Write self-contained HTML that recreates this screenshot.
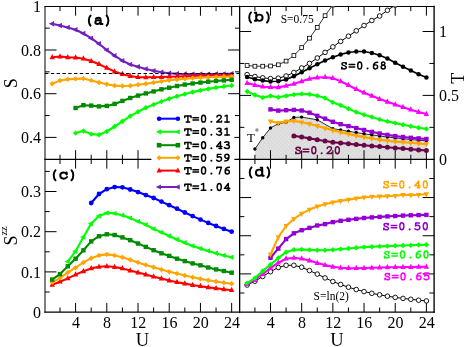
<!DOCTYPE html>
<html><head><meta charset="utf-8"><title>chart</title>
<style>html,body{margin:0;padding:0;background:#fff;}body{width:464px;height:347px;overflow:hidden;font-family:"Liberation Sans",sans-serif;}</style>
</head><body>
<svg width="464" height="347" viewBox="0 0 464 347" style="display:block;opacity:0.999;will-change:transform">
<defs>
<clipPath id="cb"><rect x="239.65" y="6.5" width="194.45000000000002" height="152.9"/></clipPath>
<pattern id="dots" width="4" height="4" patternUnits="userSpaceOnUse"><rect width="4" height="4" fill="#dcdcdc"/><rect x="0" y="0" width="1" height="1" fill="#e9e9e9"/><rect x="2" y="2" width="1" height="1" fill="#e9e9e9"/></pattern>
</defs>
<rect width="464" height="347" fill="#fff"/>
<polygon points="254.91,159.40 254.91,149.00 262.70,137.80 270.50,128.00 278.30,123.70 286.09,122.30 293.88,117.40 301.68,117.10 317.27,119.80 332.86,128.70 340.65,129.90 348.45,131.30 356.25,132.50 364.04,133.80 371.83,134.90 379.63,136.00 387.42,137.00 395.22,137.90 403.01,138.70 410.81,139.50 418.61,140.20 426.40,140.80 426.40,159.40" fill="url(#dots)"/>
<line x1="60.00" y1="6.50" x2="60.00" y2="11.10" stroke="#000" stroke-width="1.0"/>
<line x1="60.00" y1="154.80" x2="60.00" y2="164.00" stroke="#000" stroke-width="1.0"/>
<line x1="60.00" y1="307.50" x2="60.00" y2="312.10" stroke="#000" stroke-width="1.0"/>
<line x1="75.60" y1="6.50" x2="75.60" y2="15.70" stroke="#000" stroke-width="1.0"/>
<line x1="75.60" y1="150.20" x2="75.60" y2="168.60" stroke="#000" stroke-width="1.0"/>
<line x1="75.60" y1="302.90" x2="75.60" y2="312.10" stroke="#000" stroke-width="1.0"/>
<line x1="91.20" y1="6.50" x2="91.20" y2="11.10" stroke="#000" stroke-width="1.0"/>
<line x1="91.20" y1="154.80" x2="91.20" y2="164.00" stroke="#000" stroke-width="1.0"/>
<line x1="91.20" y1="307.50" x2="91.20" y2="312.10" stroke="#000" stroke-width="1.0"/>
<line x1="106.81" y1="6.50" x2="106.81" y2="15.70" stroke="#000" stroke-width="1.0"/>
<line x1="106.81" y1="150.20" x2="106.81" y2="168.60" stroke="#000" stroke-width="1.0"/>
<line x1="106.81" y1="302.90" x2="106.81" y2="312.10" stroke="#000" stroke-width="1.0"/>
<line x1="122.42" y1="6.50" x2="122.42" y2="11.10" stroke="#000" stroke-width="1.0"/>
<line x1="122.42" y1="154.80" x2="122.42" y2="164.00" stroke="#000" stroke-width="1.0"/>
<line x1="122.42" y1="307.50" x2="122.42" y2="312.10" stroke="#000" stroke-width="1.0"/>
<line x1="138.02" y1="6.50" x2="138.02" y2="15.70" stroke="#000" stroke-width="1.0"/>
<line x1="138.02" y1="150.20" x2="138.02" y2="168.60" stroke="#000" stroke-width="1.0"/>
<line x1="138.02" y1="302.90" x2="138.02" y2="312.10" stroke="#000" stroke-width="1.0"/>
<line x1="153.62" y1="6.50" x2="153.62" y2="11.10" stroke="#000" stroke-width="1.0"/>
<line x1="153.62" y1="154.80" x2="153.62" y2="164.00" stroke="#000" stroke-width="1.0"/>
<line x1="153.62" y1="307.50" x2="153.62" y2="312.10" stroke="#000" stroke-width="1.0"/>
<line x1="169.23" y1="6.50" x2="169.23" y2="15.70" stroke="#000" stroke-width="1.0"/>
<line x1="169.23" y1="150.20" x2="169.23" y2="168.60" stroke="#000" stroke-width="1.0"/>
<line x1="169.23" y1="302.90" x2="169.23" y2="312.10" stroke="#000" stroke-width="1.0"/>
<line x1="184.83" y1="6.50" x2="184.83" y2="11.10" stroke="#000" stroke-width="1.0"/>
<line x1="184.83" y1="154.80" x2="184.83" y2="164.00" stroke="#000" stroke-width="1.0"/>
<line x1="184.83" y1="307.50" x2="184.83" y2="312.10" stroke="#000" stroke-width="1.0"/>
<line x1="200.44" y1="6.50" x2="200.44" y2="15.70" stroke="#000" stroke-width="1.0"/>
<line x1="200.44" y1="150.20" x2="200.44" y2="168.60" stroke="#000" stroke-width="1.0"/>
<line x1="200.44" y1="302.90" x2="200.44" y2="312.10" stroke="#000" stroke-width="1.0"/>
<line x1="216.05" y1="6.50" x2="216.05" y2="11.10" stroke="#000" stroke-width="1.0"/>
<line x1="216.05" y1="154.80" x2="216.05" y2="164.00" stroke="#000" stroke-width="1.0"/>
<line x1="216.05" y1="307.50" x2="216.05" y2="312.10" stroke="#000" stroke-width="1.0"/>
<line x1="231.65" y1="6.50" x2="231.65" y2="15.70" stroke="#000" stroke-width="1.0"/>
<line x1="231.65" y1="150.20" x2="231.65" y2="168.60" stroke="#000" stroke-width="1.0"/>
<line x1="231.65" y1="302.90" x2="231.65" y2="312.10" stroke="#000" stroke-width="1.0"/>
<line x1="254.91" y1="6.50" x2="254.91" y2="11.10" stroke="#000" stroke-width="1.0"/>
<line x1="254.91" y1="154.80" x2="254.91" y2="164.00" stroke="#000" stroke-width="1.0"/>
<line x1="254.91" y1="307.50" x2="254.91" y2="312.10" stroke="#000" stroke-width="1.0"/>
<line x1="270.50" y1="6.50" x2="270.50" y2="15.70" stroke="#000" stroke-width="1.0"/>
<line x1="270.50" y1="150.20" x2="270.50" y2="168.60" stroke="#000" stroke-width="1.0"/>
<line x1="270.50" y1="302.90" x2="270.50" y2="312.10" stroke="#000" stroke-width="1.0"/>
<line x1="286.09" y1="6.50" x2="286.09" y2="11.10" stroke="#000" stroke-width="1.0"/>
<line x1="286.09" y1="154.80" x2="286.09" y2="164.00" stroke="#000" stroke-width="1.0"/>
<line x1="286.09" y1="307.50" x2="286.09" y2="312.10" stroke="#000" stroke-width="1.0"/>
<line x1="301.68" y1="6.50" x2="301.68" y2="15.70" stroke="#000" stroke-width="1.0"/>
<line x1="301.68" y1="150.20" x2="301.68" y2="168.60" stroke="#000" stroke-width="1.0"/>
<line x1="301.68" y1="302.90" x2="301.68" y2="312.10" stroke="#000" stroke-width="1.0"/>
<line x1="317.27" y1="6.50" x2="317.27" y2="11.10" stroke="#000" stroke-width="1.0"/>
<line x1="317.27" y1="154.80" x2="317.27" y2="164.00" stroke="#000" stroke-width="1.0"/>
<line x1="317.27" y1="307.50" x2="317.27" y2="312.10" stroke="#000" stroke-width="1.0"/>
<line x1="332.86" y1="6.50" x2="332.86" y2="15.70" stroke="#000" stroke-width="1.0"/>
<line x1="332.86" y1="150.20" x2="332.86" y2="168.60" stroke="#000" stroke-width="1.0"/>
<line x1="332.86" y1="302.90" x2="332.86" y2="312.10" stroke="#000" stroke-width="1.0"/>
<line x1="348.45" y1="6.50" x2="348.45" y2="11.10" stroke="#000" stroke-width="1.0"/>
<line x1="348.45" y1="154.80" x2="348.45" y2="164.00" stroke="#000" stroke-width="1.0"/>
<line x1="348.45" y1="307.50" x2="348.45" y2="312.10" stroke="#000" stroke-width="1.0"/>
<line x1="364.04" y1="6.50" x2="364.04" y2="15.70" stroke="#000" stroke-width="1.0"/>
<line x1="364.04" y1="150.20" x2="364.04" y2="168.60" stroke="#000" stroke-width="1.0"/>
<line x1="364.04" y1="302.90" x2="364.04" y2="312.10" stroke="#000" stroke-width="1.0"/>
<line x1="379.63" y1="6.50" x2="379.63" y2="11.10" stroke="#000" stroke-width="1.0"/>
<line x1="379.63" y1="154.80" x2="379.63" y2="164.00" stroke="#000" stroke-width="1.0"/>
<line x1="379.63" y1="307.50" x2="379.63" y2="312.10" stroke="#000" stroke-width="1.0"/>
<line x1="395.22" y1="6.50" x2="395.22" y2="15.70" stroke="#000" stroke-width="1.0"/>
<line x1="395.22" y1="150.20" x2="395.22" y2="168.60" stroke="#000" stroke-width="1.0"/>
<line x1="395.22" y1="302.90" x2="395.22" y2="312.10" stroke="#000" stroke-width="1.0"/>
<line x1="410.81" y1="6.50" x2="410.81" y2="11.10" stroke="#000" stroke-width="1.0"/>
<line x1="410.81" y1="154.80" x2="410.81" y2="164.00" stroke="#000" stroke-width="1.0"/>
<line x1="410.81" y1="307.50" x2="410.81" y2="312.10" stroke="#000" stroke-width="1.0"/>
<line x1="426.40" y1="6.50" x2="426.40" y2="15.70" stroke="#000" stroke-width="1.0"/>
<line x1="426.40" y1="150.20" x2="426.40" y2="168.60" stroke="#000" stroke-width="1.0"/>
<line x1="426.40" y1="302.90" x2="426.40" y2="312.10" stroke="#000" stroke-width="1.0"/>
<line x1="45.00" y1="28.15" x2="49.70" y2="28.15" stroke="#000" stroke-width="1.0"/>
<line x1="234.95" y1="28.15" x2="239.65" y2="28.15" stroke="#000" stroke-width="1.0"/>
<line x1="45.00" y1="50.00" x2="56.50" y2="50.00" stroke="#000" stroke-width="1.0"/>
<line x1="228.15" y1="50.00" x2="239.65" y2="50.00" stroke="#000" stroke-width="1.0"/>
<line x1="45.00" y1="71.85" x2="49.70" y2="71.85" stroke="#000" stroke-width="1.0"/>
<line x1="234.95" y1="71.85" x2="239.65" y2="71.85" stroke="#000" stroke-width="1.0"/>
<line x1="45.00" y1="93.70" x2="56.50" y2="93.70" stroke="#000" stroke-width="1.0"/>
<line x1="228.15" y1="93.70" x2="239.65" y2="93.70" stroke="#000" stroke-width="1.0"/>
<line x1="45.00" y1="115.55" x2="49.70" y2="115.55" stroke="#000" stroke-width="1.0"/>
<line x1="234.95" y1="115.55" x2="239.65" y2="115.55" stroke="#000" stroke-width="1.0"/>
<line x1="45.00" y1="137.40" x2="56.50" y2="137.40" stroke="#000" stroke-width="1.0"/>
<line x1="228.15" y1="137.40" x2="239.65" y2="137.40" stroke="#000" stroke-width="1.0"/>
<line x1="239.65" y1="127.35" x2="244.35" y2="127.35" stroke="#000" stroke-width="1.0"/>
<line x1="429.40" y1="127.35" x2="434.10" y2="127.35" stroke="#000" stroke-width="1.0"/>
<line x1="239.65" y1="95.40" x2="251.15" y2="95.40" stroke="#000" stroke-width="1.0"/>
<line x1="422.60" y1="95.40" x2="434.10" y2="95.40" stroke="#000" stroke-width="1.0"/>
<line x1="239.65" y1="63.45" x2="244.35" y2="63.45" stroke="#000" stroke-width="1.0"/>
<line x1="429.40" y1="63.45" x2="434.10" y2="63.45" stroke="#000" stroke-width="1.0"/>
<line x1="239.65" y1="31.50" x2="251.15" y2="31.50" stroke="#000" stroke-width="1.0"/>
<line x1="422.60" y1="31.50" x2="434.10" y2="31.50" stroke="#000" stroke-width="1.0"/>
<line x1="45.00" y1="292.00" x2="49.70" y2="292.00" stroke="#000" stroke-width="1.0"/>
<line x1="45.00" y1="271.90" x2="56.50" y2="271.90" stroke="#000" stroke-width="1.0"/>
<line x1="45.00" y1="251.80" x2="49.70" y2="251.80" stroke="#000" stroke-width="1.0"/>
<line x1="45.00" y1="231.70" x2="56.50" y2="231.70" stroke="#000" stroke-width="1.0"/>
<line x1="45.00" y1="211.60" x2="49.70" y2="211.60" stroke="#000" stroke-width="1.0"/>
<line x1="45.00" y1="191.50" x2="56.50" y2="191.50" stroke="#000" stroke-width="1.0"/>
<line x1="45.00" y1="171.40" x2="49.70" y2="171.40" stroke="#000" stroke-width="1.0"/>
<line x1="239.65" y1="293.01" x2="244.35" y2="293.01" stroke="#000" stroke-width="1.0"/>
<line x1="429.40" y1="293.01" x2="434.10" y2="293.01" stroke="#000" stroke-width="1.0"/>
<line x1="239.65" y1="273.92" x2="251.15" y2="273.92" stroke="#000" stroke-width="1.0"/>
<line x1="422.60" y1="273.92" x2="434.10" y2="273.92" stroke="#000" stroke-width="1.0"/>
<line x1="239.65" y1="254.83" x2="244.35" y2="254.83" stroke="#000" stroke-width="1.0"/>
<line x1="429.40" y1="254.83" x2="434.10" y2="254.83" stroke="#000" stroke-width="1.0"/>
<line x1="239.65" y1="235.74" x2="251.15" y2="235.74" stroke="#000" stroke-width="1.0"/>
<line x1="422.60" y1="235.74" x2="434.10" y2="235.74" stroke="#000" stroke-width="1.0"/>
<line x1="239.65" y1="216.65" x2="244.35" y2="216.65" stroke="#000" stroke-width="1.0"/>
<line x1="429.40" y1="216.65" x2="434.10" y2="216.65" stroke="#000" stroke-width="1.0"/>
<line x1="239.65" y1="197.56" x2="251.15" y2="197.56" stroke="#000" stroke-width="1.0"/>
<line x1="422.60" y1="197.56" x2="434.10" y2="197.56" stroke="#000" stroke-width="1.0"/>
<line x1="239.65" y1="178.47" x2="244.35" y2="178.47" stroke="#000" stroke-width="1.0"/>
<line x1="429.40" y1="178.47" x2="434.10" y2="178.47" stroke="#000" stroke-width="1.0"/>
<line x1="45.00" y1="6.50" x2="434.10" y2="6.50" stroke="#000" stroke-width="1.1" stroke-linecap="square"/>
<line x1="45.00" y1="159.40" x2="434.10" y2="159.40" stroke="#000" stroke-width="1.3" stroke-linecap="square"/>
<line x1="45.00" y1="312.10" x2="434.10" y2="312.10" stroke="#000" stroke-width="1.35" stroke-linecap="square"/>
<line x1="45.00" y1="6.50" x2="45.00" y2="312.10" stroke="#000" stroke-width="1.0" stroke-linecap="square"/>
<line x1="239.65" y1="6.50" x2="239.65" y2="312.10" stroke="#000" stroke-width="1.3" stroke-linecap="square"/>
<line x1="434.10" y1="6.50" x2="434.10" y2="312.10" stroke="#000" stroke-width="1.35" stroke-linecap="square"/>
<rect x="151.4" y="109" width="83" height="85" fill="#fff"/>
<g>
<polyline points="52.19,23.80 60.00,25.50 67.80,27.40 75.60,29.80 83.40,33.50 91.20,38.20 99.01,43.80 106.81,50.10 114.61,55.70 122.42,60.70 130.22,64.40 138.02,66.80 145.82,68.90 153.62,70.80 161.43,72.20 169.23,73.20 177.03,73.70 184.83,74.00 192.64,74.10 200.44,74.10 208.24,74.10 216.05,74.00 223.85,73.90 231.65,73.80" fill="none" stroke="#7221bc" stroke-width="2.1" stroke-linejoin="round"/>
<polygon points="48.83,23.80 54.11,21.11 54.11,26.49" fill="#7221bc"/>
<polygon points="56.64,25.50 61.92,22.81 61.92,28.19" fill="#7221bc"/>
<polygon points="64.44,27.40 69.72,24.71 69.72,30.09" fill="#7221bc"/>
<polygon points="72.24,29.80 77.52,27.11 77.52,32.49" fill="#7221bc"/>
<polygon points="80.04,33.50 85.32,30.81 85.32,36.19" fill="#7221bc"/>
<polygon points="87.84,38.20 93.12,35.51 93.12,40.89" fill="#7221bc"/>
<polygon points="95.65,43.80 100.93,41.11 100.93,46.49" fill="#7221bc"/>
<polygon points="103.45,50.10 108.73,47.41 108.73,52.79" fill="#7221bc"/>
<polygon points="111.25,55.70 116.53,53.01 116.53,58.39" fill="#7221bc"/>
<polygon points="119.06,60.70 124.34,58.01 124.34,63.39" fill="#7221bc"/>
<polygon points="126.86,64.40 132.14,61.71 132.14,67.09" fill="#7221bc"/>
<polygon points="134.66,66.80 139.94,64.11 139.94,69.49" fill="#7221bc"/>
<polygon points="142.46,68.90 147.74,66.21 147.74,71.59" fill="#7221bc"/>
<polygon points="150.26,70.80 155.54,68.11 155.54,73.49" fill="#7221bc"/>
<polygon points="158.07,72.20 163.35,69.51 163.35,74.89" fill="#7221bc"/>
<polygon points="165.87,73.20 171.15,70.51 171.15,75.89" fill="#7221bc"/>
<polygon points="173.67,73.70 178.95,71.01 178.95,76.39" fill="#7221bc"/>
<polygon points="181.47,74.00 186.75,71.31 186.75,76.69" fill="#7221bc"/>
<polygon points="189.28,74.10 194.56,71.41 194.56,76.79" fill="#7221bc"/>
<polygon points="197.08,74.10 202.36,71.41 202.36,76.79" fill="#7221bc"/>
<polygon points="204.88,74.10 210.16,71.41 210.16,76.79" fill="#7221bc"/>
<polygon points="212.69,74.00 217.97,71.31 217.97,76.69" fill="#7221bc"/>
<polygon points="220.49,73.90 225.77,71.21 225.77,76.59" fill="#7221bc"/>
<polygon points="228.29,73.80 233.57,71.11 233.57,76.49" fill="#7221bc"/>
</g>
<g>
<polyline points="52.19,57.30 60.00,56.50 67.80,57.40 75.60,57.50 83.40,58.70 91.20,61.00 99.01,64.20 106.81,67.90 114.61,71.50 122.42,74.20 130.22,76.00 138.02,77.20 145.82,77.30 153.62,77.20 161.43,77.00 169.23,76.70 177.03,76.50 184.83,76.20 192.64,76.00 200.44,75.80 208.24,75.60 216.05,75.50 223.85,75.40 231.65,75.30" fill="none" stroke="#ff0000" stroke-width="2.1" stroke-linejoin="round"/>
<polygon points="52.19,53.94 54.88,59.22 49.50,59.22" fill="#ff0000"/>
<polygon points="60.00,53.14 62.68,58.42 57.31,58.42" fill="#ff0000"/>
<polygon points="67.80,54.04 70.49,59.32 65.11,59.32" fill="#ff0000"/>
<polygon points="75.60,54.14 78.29,59.42 72.91,59.42" fill="#ff0000"/>
<polygon points="83.40,55.34 86.09,60.62 80.71,60.62" fill="#ff0000"/>
<polygon points="91.20,57.64 93.89,62.92 88.52,62.92" fill="#ff0000"/>
<polygon points="99.01,60.84 101.70,66.12 96.32,66.12" fill="#ff0000"/>
<polygon points="106.81,64.54 109.50,69.82 104.12,69.82" fill="#ff0000"/>
<polygon points="114.61,68.14 117.30,73.42 111.92,73.42" fill="#ff0000"/>
<polygon points="122.42,70.84 125.10,76.12 119.73,76.12" fill="#ff0000"/>
<polygon points="130.22,72.64 132.91,77.92 127.53,77.92" fill="#ff0000"/>
<polygon points="138.02,73.84 140.71,79.12 135.33,79.12" fill="#ff0000"/>
<polygon points="145.82,73.94 148.51,79.22 143.13,79.22" fill="#ff0000"/>
<polygon points="153.62,73.84 156.31,79.12 150.94,79.12" fill="#ff0000"/>
<polygon points="161.43,73.64 164.12,78.92 158.74,78.92" fill="#ff0000"/>
<polygon points="169.23,73.34 171.92,78.62 166.54,78.62" fill="#ff0000"/>
<polygon points="177.03,73.14 179.72,78.42 174.34,78.42" fill="#ff0000"/>
<polygon points="184.83,72.84 187.52,78.12 182.15,78.12" fill="#ff0000"/>
<polygon points="192.64,72.64 195.33,77.92 189.95,77.92" fill="#ff0000"/>
<polygon points="200.44,72.44 203.13,77.72 197.75,77.72" fill="#ff0000"/>
<polygon points="208.24,72.24 210.93,77.52 205.55,77.52" fill="#ff0000"/>
<polygon points="216.05,72.14 218.73,77.42 213.36,77.42" fill="#ff0000"/>
<polygon points="223.85,72.04 226.54,77.32 221.16,77.32" fill="#ff0000"/>
<polygon points="231.65,71.94 234.34,77.22 228.96,77.22" fill="#ff0000"/>
</g>
<g>
<polyline points="52.19,83.80 60.00,80.60 67.80,79.30 75.60,78.90 83.40,78.60 91.20,80.40 99.01,82.50 106.81,84.30 114.61,85.60 122.42,86.00 130.22,85.70 138.02,84.80 145.82,83.80 153.62,82.60 161.43,81.40 169.23,80.30 177.03,79.50 184.83,78.80 192.64,78.10 200.44,77.60 208.24,77.20 216.05,76.90 223.85,76.70 231.65,76.60" fill="none" stroke="#ffa500" stroke-width="2.1" stroke-linejoin="round"/>
<polygon points="52.19,81.11 54.88,83.80 52.19,86.49 49.50,83.80" fill="#ffa500"/>
<polygon points="60.00,77.91 62.68,80.60 60.00,83.29 57.31,80.60" fill="#ffa500"/>
<polygon points="67.80,76.61 70.49,79.30 67.80,81.99 65.11,79.30" fill="#ffa500"/>
<polygon points="75.60,76.21 78.29,78.90 75.60,81.59 72.91,78.90" fill="#ffa500"/>
<polygon points="83.40,75.91 86.09,78.60 83.40,81.29 80.71,78.60" fill="#ffa500"/>
<polygon points="91.20,77.71 93.89,80.40 91.20,83.09 88.52,80.40" fill="#ffa500"/>
<polygon points="99.01,79.81 101.70,82.50 99.01,85.19 96.32,82.50" fill="#ffa500"/>
<polygon points="106.81,81.61 109.50,84.30 106.81,86.99 104.12,84.30" fill="#ffa500"/>
<polygon points="114.61,82.91 117.30,85.60 114.61,88.29 111.92,85.60" fill="#ffa500"/>
<polygon points="122.42,83.31 125.10,86.00 122.42,88.69 119.73,86.00" fill="#ffa500"/>
<polygon points="130.22,83.01 132.91,85.70 130.22,88.39 127.53,85.70" fill="#ffa500"/>
<polygon points="138.02,82.11 140.71,84.80 138.02,87.49 135.33,84.80" fill="#ffa500"/>
<polygon points="145.82,81.11 148.51,83.80 145.82,86.49 143.13,83.80" fill="#ffa500"/>
<polygon points="153.62,79.91 156.31,82.60 153.62,85.29 150.94,82.60" fill="#ffa500"/>
<polygon points="161.43,78.71 164.12,81.40 161.43,84.09 158.74,81.40" fill="#ffa500"/>
<polygon points="169.23,77.61 171.92,80.30 169.23,82.99 166.54,80.30" fill="#ffa500"/>
<polygon points="177.03,76.81 179.72,79.50 177.03,82.19 174.34,79.50" fill="#ffa500"/>
<polygon points="184.83,76.11 187.52,78.80 184.83,81.49 182.15,78.80" fill="#ffa500"/>
<polygon points="192.64,75.41 195.33,78.10 192.64,80.79 189.95,78.10" fill="#ffa500"/>
<polygon points="200.44,74.91 203.13,77.60 200.44,80.29 197.75,77.60" fill="#ffa500"/>
<polygon points="208.24,74.51 210.93,77.20 208.24,79.89 205.55,77.20" fill="#ffa500"/>
<polygon points="216.05,74.21 218.73,76.90 216.05,79.59 213.36,76.90" fill="#ffa500"/>
<polygon points="223.85,74.01 226.54,76.70 223.85,79.39 221.16,76.70" fill="#ffa500"/>
<polygon points="231.65,73.91 234.34,76.60 231.65,79.29 228.96,76.60" fill="#ffa500"/>
</g>
<g>
<polyline points="75.60,108.00 83.40,105.20 91.20,105.60 99.01,106.40 106.81,105.90 114.61,103.90 122.42,100.90 130.22,98.00 138.02,95.60 145.82,93.40 153.62,91.40 161.43,89.30 169.23,87.70 177.03,86.00 184.83,84.60 192.64,83.50 200.44,82.60 208.24,81.70 216.05,81.00 223.85,80.40 231.65,79.80" fill="none" stroke="#008b00" stroke-width="2.1" stroke-linejoin="round"/>
<rect x="73.40" y="105.80" width="4.40" height="4.40" fill="#008b00"/>
<rect x="81.20" y="103.00" width="4.40" height="4.40" fill="#008b00"/>
<rect x="89.00" y="103.40" width="4.40" height="4.40" fill="#008b00"/>
<rect x="96.81" y="104.20" width="4.40" height="4.40" fill="#008b00"/>
<rect x="104.61" y="103.70" width="4.40" height="4.40" fill="#008b00"/>
<rect x="112.41" y="101.70" width="4.40" height="4.40" fill="#008b00"/>
<rect x="120.22" y="98.70" width="4.40" height="4.40" fill="#008b00"/>
<rect x="128.02" y="95.80" width="4.40" height="4.40" fill="#008b00"/>
<rect x="135.82" y="93.40" width="4.40" height="4.40" fill="#008b00"/>
<rect x="143.62" y="91.20" width="4.40" height="4.40" fill="#008b00"/>
<rect x="151.43" y="89.20" width="4.40" height="4.40" fill="#008b00"/>
<rect x="159.23" y="87.10" width="4.40" height="4.40" fill="#008b00"/>
<rect x="167.03" y="85.50" width="4.40" height="4.40" fill="#008b00"/>
<rect x="174.83" y="83.80" width="4.40" height="4.40" fill="#008b00"/>
<rect x="182.63" y="82.40" width="4.40" height="4.40" fill="#008b00"/>
<rect x="190.44" y="81.30" width="4.40" height="4.40" fill="#008b00"/>
<rect x="198.24" y="80.40" width="4.40" height="4.40" fill="#008b00"/>
<rect x="206.04" y="79.50" width="4.40" height="4.40" fill="#008b00"/>
<rect x="213.85" y="78.80" width="4.40" height="4.40" fill="#008b00"/>
<rect x="221.65" y="78.20" width="4.40" height="4.40" fill="#008b00"/>
<rect x="229.45" y="77.60" width="4.40" height="4.40" fill="#008b00"/>
</g>
<g>
<polyline points="75.60,133.10 83.40,131.00 91.20,134.10 99.01,134.80 106.81,131.50 114.61,126.50 122.42,121.30 130.22,116.10 138.02,111.80 145.82,107.80 153.62,104.60 161.43,101.60 169.23,98.80 177.03,96.30 184.83,94.10 192.64,92.10 200.44,90.40 208.24,88.90 216.05,87.60 223.85,86.50 231.65,85.50" fill="none" stroke="#00ff00" stroke-width="2.1" stroke-linejoin="round"/>
<polygon points="75.60,130.41 78.29,133.10 75.60,135.79 72.91,133.10" fill="#00ff00"/>
<polygon points="83.40,128.31 86.09,131.00 83.40,133.69 80.71,131.00" fill="#00ff00"/>
<polygon points="91.20,131.41 93.89,134.10 91.20,136.79 88.52,134.10" fill="#00ff00"/>
<polygon points="99.01,132.11 101.70,134.80 99.01,137.49 96.32,134.80" fill="#00ff00"/>
<polygon points="106.81,128.81 109.50,131.50 106.81,134.19 104.12,131.50" fill="#00ff00"/>
<polygon points="114.61,123.81 117.30,126.50 114.61,129.19 111.92,126.50" fill="#00ff00"/>
<polygon points="122.42,118.61 125.10,121.30 122.42,123.99 119.73,121.30" fill="#00ff00"/>
<polygon points="130.22,113.41 132.91,116.10 130.22,118.79 127.53,116.10" fill="#00ff00"/>
<polygon points="138.02,109.11 140.71,111.80 138.02,114.49 135.33,111.80" fill="#00ff00"/>
<polygon points="145.82,105.11 148.51,107.80 145.82,110.49 143.13,107.80" fill="#00ff00"/>
<polygon points="153.62,101.91 156.31,104.60 153.62,107.29 150.94,104.60" fill="#00ff00"/>
<polygon points="161.43,98.91 164.12,101.60 161.43,104.29 158.74,101.60" fill="#00ff00"/>
<polygon points="169.23,96.11 171.92,98.80 169.23,101.49 166.54,98.80" fill="#00ff00"/>
<polygon points="177.03,93.61 179.72,96.30 177.03,98.99 174.34,96.30" fill="#00ff00"/>
<polygon points="184.83,91.41 187.52,94.10 184.83,96.79 182.15,94.10" fill="#00ff00"/>
<polygon points="192.64,89.41 195.33,92.10 192.64,94.79 189.95,92.10" fill="#00ff00"/>
<polygon points="200.44,87.71 203.13,90.40 200.44,93.09 197.75,90.40" fill="#00ff00"/>
<polygon points="208.24,86.21 210.93,88.90 208.24,91.59 205.55,88.90" fill="#00ff00"/>
<polygon points="216.05,84.91 218.73,87.60 216.05,90.29 213.36,87.60" fill="#00ff00"/>
<polygon points="223.85,83.81 226.54,86.50 223.85,89.19 221.16,86.50" fill="#00ff00"/>
<polygon points="231.65,82.81 234.34,85.50 231.65,88.19 228.96,85.50" fill="#00ff00"/>
</g>
<line x1="45.00" y1="73.50" x2="239.65" y2="73.50" stroke="#000" stroke-width="1.2" stroke-dasharray="3.4,2.4"/>
<g>
<polyline points="254.91,149.00 262.70,137.80 270.50,128.00 278.30,123.70 286.09,122.30 293.88,117.40 301.68,117.10 317.27,119.80 332.86,128.70 340.65,129.90 348.45,131.30 356.25,132.50 364.04,133.80 371.83,134.90 379.63,136.00 387.42,137.00 395.22,137.90 403.01,138.70 410.81,139.50 418.61,140.20 426.40,140.80" fill="none" stroke="#000" stroke-width="0.8" stroke-linejoin="round"/>
<circle cx="254.91" cy="149.00" r="1.70" fill="#000"/>
<circle cx="262.70" cy="137.80" r="1.70" fill="#000"/>
<circle cx="270.50" cy="128.00" r="1.70" fill="#000"/>
<circle cx="278.30" cy="123.70" r="1.70" fill="#000"/>
<circle cx="286.09" cy="122.30" r="1.70" fill="#000"/>
<circle cx="293.88" cy="117.40" r="1.70" fill="#000"/>
<circle cx="301.68" cy="117.10" r="1.70" fill="#000"/>
<circle cx="317.27" cy="119.80" r="1.70" fill="#000"/>
<circle cx="332.86" cy="128.70" r="1.70" fill="#000"/>
<circle cx="340.65" cy="129.90" r="1.70" fill="#000"/>
<circle cx="348.45" cy="131.30" r="1.70" fill="#000"/>
<circle cx="356.25" cy="132.50" r="1.70" fill="#000"/>
<circle cx="364.04" cy="133.80" r="1.70" fill="#000"/>
<circle cx="371.83" cy="134.90" r="1.70" fill="#000"/>
<circle cx="379.63" cy="136.00" r="1.70" fill="#000"/>
<circle cx="387.42" cy="137.00" r="1.70" fill="#000"/>
<circle cx="395.22" cy="137.90" r="1.70" fill="#000"/>
<circle cx="403.01" cy="138.70" r="1.70" fill="#000"/>
<circle cx="410.81" cy="139.50" r="1.70" fill="#000"/>
<circle cx="418.61" cy="140.20" r="1.70" fill="#000"/>
<circle cx="426.40" cy="140.80" r="1.70" fill="#000"/>
</g>
<g clip-path="url(#cb)">
<polyline points="247.11,65.50 254.91,66.20 262.70,66.20 270.50,66.00 278.30,64.80 286.09,61.10 293.88,55.50 301.68,47.60 309.48,38.20 317.27,27.40 325.06,15.70 332.86,5.00" fill="none" stroke="#000" stroke-width="0.8" stroke-linejoin="round"/>
<rect x="245.21" y="63.60" width="3.80" height="3.80" fill="#fff" stroke="#000" stroke-width="0.8"/>
<rect x="253.01" y="64.30" width="3.80" height="3.80" fill="#fff" stroke="#000" stroke-width="0.8"/>
<rect x="260.81" y="64.30" width="3.80" height="3.80" fill="#fff" stroke="#000" stroke-width="0.8"/>
<rect x="268.60" y="64.10" width="3.80" height="3.80" fill="#fff" stroke="#000" stroke-width="0.8"/>
<rect x="276.40" y="62.90" width="3.80" height="3.80" fill="#fff" stroke="#000" stroke-width="0.8"/>
<rect x="284.19" y="59.20" width="3.80" height="3.80" fill="#fff" stroke="#000" stroke-width="0.8"/>
<rect x="291.99" y="53.60" width="3.80" height="3.80" fill="#fff" stroke="#000" stroke-width="0.8"/>
<rect x="299.78" y="45.70" width="3.80" height="3.80" fill="#fff" stroke="#000" stroke-width="0.8"/>
<rect x="307.58" y="36.30" width="3.80" height="3.80" fill="#fff" stroke="#000" stroke-width="0.8"/>
<rect x="315.37" y="25.50" width="3.80" height="3.80" fill="#fff" stroke="#000" stroke-width="0.8"/>
<rect x="323.17" y="13.80" width="3.80" height="3.80" fill="#fff" stroke="#000" stroke-width="0.8"/>
<rect x="330.96" y="3.10" width="3.80" height="3.80" fill="#fff" stroke="#000" stroke-width="0.8"/>
</g>
<g clip-path="url(#cb)">
<polyline points="247.11,74.60 254.91,76.50 262.70,77.80 270.50,78.60 278.30,78.20 286.09,76.00 293.88,72.50 301.68,68.00 309.48,63.40 317.27,58.00 325.06,52.40 332.86,46.90 340.65,41.40 348.45,36.20 356.25,30.80 364.04,25.50 371.83,20.50 379.63,16.00 387.42,10.30 395.22,5.20" fill="none" stroke="#000" stroke-width="1.0" stroke-linejoin="round"/>
<circle cx="247.11" cy="74.60" r="2.30" fill="#fff" stroke="#000" stroke-width="0.9"/>
<circle cx="254.91" cy="76.50" r="2.30" fill="#fff" stroke="#000" stroke-width="0.9"/>
<circle cx="262.70" cy="77.80" r="2.30" fill="#fff" stroke="#000" stroke-width="0.9"/>
<circle cx="270.50" cy="78.60" r="2.30" fill="#fff" stroke="#000" stroke-width="0.9"/>
<circle cx="278.30" cy="78.20" r="2.30" fill="#fff" stroke="#000" stroke-width="0.9"/>
<circle cx="286.09" cy="76.00" r="2.30" fill="#fff" stroke="#000" stroke-width="0.9"/>
<circle cx="293.88" cy="72.50" r="2.30" fill="#fff" stroke="#000" stroke-width="0.9"/>
<circle cx="301.68" cy="68.00" r="2.30" fill="#fff" stroke="#000" stroke-width="0.9"/>
<circle cx="309.48" cy="63.40" r="2.30" fill="#fff" stroke="#000" stroke-width="0.9"/>
<circle cx="317.27" cy="58.00" r="2.30" fill="#fff" stroke="#000" stroke-width="0.9"/>
<circle cx="325.06" cy="52.40" r="2.30" fill="#fff" stroke="#000" stroke-width="0.9"/>
<circle cx="332.86" cy="46.90" r="2.30" fill="#fff" stroke="#000" stroke-width="0.9"/>
<circle cx="340.65" cy="41.40" r="2.30" fill="#fff" stroke="#000" stroke-width="0.9"/>
<circle cx="348.45" cy="36.20" r="2.30" fill="#fff" stroke="#000" stroke-width="0.9"/>
<circle cx="356.25" cy="30.80" r="2.30" fill="#fff" stroke="#000" stroke-width="0.9"/>
<circle cx="364.04" cy="25.50" r="2.30" fill="#fff" stroke="#000" stroke-width="0.9"/>
<circle cx="371.83" cy="20.50" r="2.30" fill="#fff" stroke="#000" stroke-width="0.9"/>
<circle cx="379.63" cy="16.00" r="2.30" fill="#fff" stroke="#000" stroke-width="0.9"/>
<circle cx="387.42" cy="10.30" r="2.30" fill="#fff" stroke="#000" stroke-width="0.9"/>
<circle cx="395.22" cy="5.20" r="2.30" fill="#fff" stroke="#000" stroke-width="0.9"/>
</g>
<g>
<polyline points="247.11,77.00 254.91,79.30 262.70,80.60 270.50,81.50 278.30,81.30 286.09,79.50 293.88,76.30 301.68,72.30 309.48,68.20 317.27,64.30 325.06,60.50 332.86,57.30 340.65,54.40 348.45,52.50 356.25,51.50 364.04,51.50 371.83,53.00 379.63,55.30 387.42,58.60 395.22,62.70 403.01,66.70 410.81,70.50 418.61,74.30 426.40,77.60" fill="none" stroke="#000" stroke-width="1.65" stroke-linejoin="round"/>
<circle cx="247.11" cy="77.00" r="2.25" fill="#000"/>
<circle cx="254.91" cy="79.30" r="2.25" fill="#000"/>
<circle cx="262.70" cy="80.60" r="2.25" fill="#000"/>
<circle cx="270.50" cy="81.50" r="2.25" fill="#000"/>
<circle cx="278.30" cy="81.30" r="2.25" fill="#000"/>
<circle cx="286.09" cy="79.50" r="2.25" fill="#000"/>
<circle cx="293.88" cy="76.30" r="2.25" fill="#000"/>
<circle cx="301.68" cy="72.30" r="2.25" fill="#000"/>
<circle cx="309.48" cy="68.20" r="2.25" fill="#000"/>
<circle cx="317.27" cy="64.30" r="2.25" fill="#000"/>
<circle cx="325.06" cy="60.50" r="2.25" fill="#000"/>
<circle cx="332.86" cy="57.30" r="2.25" fill="#000"/>
<circle cx="340.65" cy="54.40" r="2.25" fill="#000"/>
<circle cx="348.45" cy="52.50" r="2.25" fill="#000"/>
<circle cx="356.25" cy="51.50" r="2.25" fill="#000"/>
<circle cx="364.04" cy="51.50" r="2.25" fill="#000"/>
<circle cx="371.83" cy="53.00" r="2.25" fill="#000"/>
<circle cx="379.63" cy="55.30" r="2.25" fill="#000"/>
<circle cx="387.42" cy="58.60" r="2.25" fill="#000"/>
<circle cx="395.22" cy="62.70" r="2.25" fill="#000"/>
<circle cx="403.01" cy="66.70" r="2.25" fill="#000"/>
<circle cx="410.81" cy="70.50" r="2.25" fill="#000"/>
<circle cx="418.61" cy="74.30" r="2.25" fill="#000"/>
<circle cx="426.40" cy="77.60" r="2.25" fill="#000"/>
</g>
<g>
<polyline points="247.11,83.00 254.91,85.10 262.70,86.70 270.50,87.20 278.30,87.40 286.09,85.80 293.88,83.90 301.68,81.30 309.48,78.80 317.27,77.50 325.06,77.20 332.86,78.10 340.65,81.30 348.45,85.20 356.25,89.20 364.04,92.70 371.83,95.80 379.63,99.00 387.42,101.80 395.22,104.60 403.01,107.20 410.81,109.70 418.61,112.00 426.40,114.00" fill="none" stroke="#ff00ff" stroke-width="2.1" stroke-linejoin="round"/>
<polygon points="247.11,79.64 249.80,84.92 244.43,84.92" fill="#ff00ff"/>
<polygon points="254.91,81.74 257.60,87.02 252.22,87.02" fill="#ff00ff"/>
<polygon points="262.70,83.34 265.39,88.62 260.02,88.62" fill="#ff00ff"/>
<polygon points="270.50,83.84 273.19,89.12 267.81,89.12" fill="#ff00ff"/>
<polygon points="278.30,84.04 280.98,89.32 275.61,89.32" fill="#ff00ff"/>
<polygon points="286.09,82.44 288.78,87.72 283.40,87.72" fill="#ff00ff"/>
<polygon points="293.88,80.54 296.57,85.82 291.20,85.82" fill="#ff00ff"/>
<polygon points="301.68,77.94 304.37,83.22 298.99,83.22" fill="#ff00ff"/>
<polygon points="309.48,75.44 312.16,80.72 306.79,80.72" fill="#ff00ff"/>
<polygon points="317.27,74.14 319.96,79.42 314.58,79.42" fill="#ff00ff"/>
<polygon points="325.06,73.84 327.75,79.12 322.38,79.12" fill="#ff00ff"/>
<polygon points="332.86,74.74 335.55,80.02 330.17,80.02" fill="#ff00ff"/>
<polygon points="340.65,77.94 343.34,83.22 337.97,83.22" fill="#ff00ff"/>
<polygon points="348.45,81.84 351.14,87.12 345.76,87.12" fill="#ff00ff"/>
<polygon points="356.25,85.84 358.93,91.12 353.56,91.12" fill="#ff00ff"/>
<polygon points="364.04,89.34 366.73,94.62 361.35,94.62" fill="#ff00ff"/>
<polygon points="371.83,92.44 374.52,97.72 369.15,97.72" fill="#ff00ff"/>
<polygon points="379.63,95.64 382.32,100.92 376.94,100.92" fill="#ff00ff"/>
<polygon points="387.42,98.44 390.11,103.72 384.74,103.72" fill="#ff00ff"/>
<polygon points="395.22,101.24 397.91,106.52 392.53,106.52" fill="#ff00ff"/>
<polygon points="403.01,103.84 405.70,109.12 400.33,109.12" fill="#ff00ff"/>
<polygon points="410.81,106.34 413.50,111.62 408.12,111.62" fill="#ff00ff"/>
<polygon points="418.61,108.64 421.29,113.92 415.92,113.92" fill="#ff00ff"/>
<polygon points="426.40,110.64 429.09,115.92 423.71,115.92" fill="#ff00ff"/>
</g>
<g>
<polyline points="247.11,91.50 254.91,95.00 262.70,97.60 270.50,95.90 278.30,97.30 286.09,95.90 293.88,94.60 301.68,93.90 309.48,94.30 317.27,95.70 325.06,98.10 332.86,102.40 340.65,105.30 348.45,108.80 356.25,112.10 364.04,114.70 371.83,117.00 379.63,119.40 387.42,121.40 395.22,123.10 403.01,124.80 410.81,126.30 418.61,127.70 426.40,128.90" fill="none" stroke="#00ff00" stroke-width="2.1" stroke-linejoin="round"/>
<polygon points="247.11,88.81 249.80,91.50 247.11,94.19 244.43,91.50" fill="#00ff00"/>
<polygon points="254.91,92.31 257.60,95.00 254.91,97.69 252.22,95.00" fill="#00ff00"/>
<polygon points="262.70,94.91 265.39,97.60 262.70,100.29 260.02,97.60" fill="#00ff00"/>
<polygon points="270.50,93.21 273.19,95.90 270.50,98.59 267.81,95.90" fill="#00ff00"/>
<polygon points="278.30,94.61 280.98,97.30 278.30,99.99 275.61,97.30" fill="#00ff00"/>
<polygon points="286.09,93.21 288.78,95.90 286.09,98.59 283.40,95.90" fill="#00ff00"/>
<polygon points="293.88,91.91 296.57,94.60 293.88,97.29 291.20,94.60" fill="#00ff00"/>
<polygon points="301.68,91.21 304.37,93.90 301.68,96.59 298.99,93.90" fill="#00ff00"/>
<polygon points="309.48,91.61 312.16,94.30 309.48,96.99 306.79,94.30" fill="#00ff00"/>
<polygon points="317.27,93.01 319.96,95.70 317.27,98.39 314.58,95.70" fill="#00ff00"/>
<polygon points="325.06,95.41 327.75,98.10 325.06,100.79 322.38,98.10" fill="#00ff00"/>
<polygon points="332.86,99.71 335.55,102.40 332.86,105.09 330.17,102.40" fill="#00ff00"/>
<polygon points="340.65,102.61 343.34,105.30 340.65,107.99 337.97,105.30" fill="#00ff00"/>
<polygon points="348.45,106.11 351.14,108.80 348.45,111.49 345.76,108.80" fill="#00ff00"/>
<polygon points="356.25,109.41 358.93,112.10 356.25,114.79 353.56,112.10" fill="#00ff00"/>
<polygon points="364.04,112.01 366.73,114.70 364.04,117.39 361.35,114.70" fill="#00ff00"/>
<polygon points="371.83,114.31 374.52,117.00 371.83,119.69 369.15,117.00" fill="#00ff00"/>
<polygon points="379.63,116.71 382.32,119.40 379.63,122.09 376.94,119.40" fill="#00ff00"/>
<polygon points="387.42,118.71 390.11,121.40 387.42,124.09 384.74,121.40" fill="#00ff00"/>
<polygon points="395.22,120.41 397.91,123.10 395.22,125.79 392.53,123.10" fill="#00ff00"/>
<polygon points="403.01,122.11 405.70,124.80 403.01,127.49 400.33,124.80" fill="#00ff00"/>
<polygon points="410.81,123.61 413.50,126.30 410.81,128.99 408.12,126.30" fill="#00ff00"/>
<polygon points="418.61,125.01 421.29,127.70 418.61,130.39 415.92,127.70" fill="#00ff00"/>
<polygon points="426.40,126.21 429.09,128.90 426.40,131.59 423.71,128.90" fill="#00ff00"/>
</g>
<g>
<polyline points="270.50,109.40 278.30,110.60 286.09,110.20 293.88,109.90 301.68,110.50 309.48,112.70 317.27,115.80 325.06,118.70 332.86,121.80 340.65,124.20 348.45,126.10 356.25,128.10 364.04,130.00 371.83,131.90 379.63,133.50 387.42,134.90 395.22,136.10 403.01,137.00 410.81,137.80 418.61,138.40 426.40,139.00" fill="none" stroke="#9400d3" stroke-width="2.1" stroke-linejoin="round"/>
<rect x="268.30" y="107.20" width="4.40" height="4.40" fill="#9400d3"/>
<rect x="276.10" y="108.40" width="4.40" height="4.40" fill="#9400d3"/>
<rect x="283.89" y="108.00" width="4.40" height="4.40" fill="#9400d3"/>
<rect x="291.69" y="107.70" width="4.40" height="4.40" fill="#9400d3"/>
<rect x="299.48" y="108.30" width="4.40" height="4.40" fill="#9400d3"/>
<rect x="307.28" y="110.50" width="4.40" height="4.40" fill="#9400d3"/>
<rect x="315.07" y="113.60" width="4.40" height="4.40" fill="#9400d3"/>
<rect x="322.87" y="116.50" width="4.40" height="4.40" fill="#9400d3"/>
<rect x="330.66" y="119.60" width="4.40" height="4.40" fill="#9400d3"/>
<rect x="338.45" y="122.00" width="4.40" height="4.40" fill="#9400d3"/>
<rect x="346.25" y="123.90" width="4.40" height="4.40" fill="#9400d3"/>
<rect x="354.05" y="125.90" width="4.40" height="4.40" fill="#9400d3"/>
<rect x="361.84" y="127.80" width="4.40" height="4.40" fill="#9400d3"/>
<rect x="369.63" y="129.70" width="4.40" height="4.40" fill="#9400d3"/>
<rect x="377.43" y="131.30" width="4.40" height="4.40" fill="#9400d3"/>
<rect x="385.22" y="132.70" width="4.40" height="4.40" fill="#9400d3"/>
<rect x="393.02" y="133.90" width="4.40" height="4.40" fill="#9400d3"/>
<rect x="400.81" y="134.80" width="4.40" height="4.40" fill="#9400d3"/>
<rect x="408.61" y="135.60" width="4.40" height="4.40" fill="#9400d3"/>
<rect x="416.41" y="136.20" width="4.40" height="4.40" fill="#9400d3"/>
<rect x="424.20" y="136.80" width="4.40" height="4.40" fill="#9400d3"/>
</g>
<g>
<polyline points="270.50,121.50 278.30,122.80 286.09,121.40 293.88,120.90 301.68,122.30 309.48,124.00 317.27,126.00 325.06,128.30 332.86,130.30 340.65,132.30 348.45,134.00 356.25,135.60 364.04,137.10 371.83,138.50 379.63,139.80 387.42,140.80 395.22,141.60 403.01,142.20 410.81,142.80 418.61,143.50 426.40,144.20" fill="none" stroke="#ffa500" stroke-width="2.1" stroke-linejoin="round"/>
<polygon points="270.50,124.86 273.19,119.58 267.81,119.58" fill="#ffa500"/>
<polygon points="278.30,126.16 280.98,120.88 275.61,120.88" fill="#ffa500"/>
<polygon points="286.09,124.76 288.78,119.48 283.40,119.48" fill="#ffa500"/>
<polygon points="293.88,124.26 296.57,118.98 291.20,118.98" fill="#ffa500"/>
<polygon points="301.68,125.66 304.37,120.38 298.99,120.38" fill="#ffa500"/>
<polygon points="309.48,127.36 312.16,122.08 306.79,122.08" fill="#ffa500"/>
<polygon points="317.27,129.36 319.96,124.08 314.58,124.08" fill="#ffa500"/>
<polygon points="325.06,131.66 327.75,126.38 322.38,126.38" fill="#ffa500"/>
<polygon points="332.86,133.66 335.55,128.38 330.17,128.38" fill="#ffa500"/>
<polygon points="340.65,135.66 343.34,130.38 337.97,130.38" fill="#ffa500"/>
<polygon points="348.45,137.36 351.14,132.08 345.76,132.08" fill="#ffa500"/>
<polygon points="356.25,138.96 358.93,133.68 353.56,133.68" fill="#ffa500"/>
<polygon points="364.04,140.46 366.73,135.18 361.35,135.18" fill="#ffa500"/>
<polygon points="371.83,141.86 374.52,136.58 369.15,136.58" fill="#ffa500"/>
<polygon points="379.63,143.16 382.32,137.88 376.94,137.88" fill="#ffa500"/>
<polygon points="387.42,144.16 390.11,138.88 384.74,138.88" fill="#ffa500"/>
<polygon points="395.22,144.96 397.91,139.68 392.53,139.68" fill="#ffa500"/>
<polygon points="403.01,145.56 405.70,140.28 400.33,140.28" fill="#ffa500"/>
<polygon points="410.81,146.16 413.50,140.88 408.12,140.88" fill="#ffa500"/>
<polygon points="418.61,146.86 421.29,141.58 415.92,141.58" fill="#ffa500"/>
<polygon points="426.40,147.56 429.09,142.28 423.71,142.28" fill="#ffa500"/>
</g>
<g>
<polyline points="293.88,135.90 301.68,137.00 309.48,138.40 317.27,139.80 325.06,141.00 332.86,142.20 340.65,143.00 348.45,143.80 356.25,144.60 364.04,145.30 371.83,146.00 379.63,146.60 387.42,147.30 395.22,148.00 403.01,148.60 410.81,149.20 418.61,149.90 426.40,150.50" fill="none" stroke="#670748" stroke-width="2.1" stroke-linejoin="round"/>
<circle cx="293.88" cy="135.90" r="2.50" fill="#670748"/>
<circle cx="301.68" cy="137.00" r="2.50" fill="#670748"/>
<circle cx="309.48" cy="138.40" r="2.50" fill="#670748"/>
<circle cx="317.27" cy="139.80" r="2.50" fill="#670748"/>
<circle cx="325.06" cy="141.00" r="2.50" fill="#670748"/>
<circle cx="332.86" cy="142.20" r="2.50" fill="#670748"/>
<circle cx="340.65" cy="143.00" r="2.50" fill="#670748"/>
<circle cx="348.45" cy="143.80" r="2.50" fill="#670748"/>
<circle cx="356.25" cy="144.60" r="2.50" fill="#670748"/>
<circle cx="364.04" cy="145.30" r="2.50" fill="#670748"/>
<circle cx="371.83" cy="146.00" r="2.50" fill="#670748"/>
<circle cx="379.63" cy="146.60" r="2.50" fill="#670748"/>
<circle cx="387.42" cy="147.30" r="2.50" fill="#670748"/>
<circle cx="395.22" cy="148.00" r="2.50" fill="#670748"/>
<circle cx="403.01" cy="148.60" r="2.50" fill="#670748"/>
<circle cx="410.81" cy="149.20" r="2.50" fill="#670748"/>
<circle cx="418.61" cy="149.90" r="2.50" fill="#670748"/>
<circle cx="426.40" cy="150.50" r="2.50" fill="#670748"/>
</g>
<g>
<polyline points="52.19,284.80 60.00,281.70 67.80,278.40 75.60,274.60 83.40,271.30 91.20,268.40 99.01,266.80 106.81,266.30 114.61,267.00 122.42,268.40 130.22,270.60 138.02,272.60 145.82,274.60 153.62,276.70 161.43,278.60 169.23,280.50 177.03,282.20 184.83,283.60 192.64,285.00 200.44,286.20 208.24,287.40 216.05,288.30 223.85,289.30 231.65,290.20" fill="none" stroke="#ff0000" stroke-width="2.1" stroke-linejoin="round"/>
<polygon points="52.19,281.44 54.88,286.72 49.50,286.72" fill="#ff0000"/>
<polygon points="60.00,278.34 62.68,283.62 57.31,283.62" fill="#ff0000"/>
<polygon points="67.80,275.04 70.49,280.32 65.11,280.32" fill="#ff0000"/>
<polygon points="75.60,271.24 78.29,276.52 72.91,276.52" fill="#ff0000"/>
<polygon points="83.40,267.94 86.09,273.22 80.71,273.22" fill="#ff0000"/>
<polygon points="91.20,265.04 93.89,270.32 88.52,270.32" fill="#ff0000"/>
<polygon points="99.01,263.44 101.70,268.72 96.32,268.72" fill="#ff0000"/>
<polygon points="106.81,262.94 109.50,268.22 104.12,268.22" fill="#ff0000"/>
<polygon points="114.61,263.64 117.30,268.92 111.92,268.92" fill="#ff0000"/>
<polygon points="122.42,265.04 125.10,270.32 119.73,270.32" fill="#ff0000"/>
<polygon points="130.22,267.24 132.91,272.52 127.53,272.52" fill="#ff0000"/>
<polygon points="138.02,269.24 140.71,274.52 135.33,274.52" fill="#ff0000"/>
<polygon points="145.82,271.24 148.51,276.52 143.13,276.52" fill="#ff0000"/>
<polygon points="153.62,273.34 156.31,278.62 150.94,278.62" fill="#ff0000"/>
<polygon points="161.43,275.24 164.12,280.52 158.74,280.52" fill="#ff0000"/>
<polygon points="169.23,277.14 171.92,282.42 166.54,282.42" fill="#ff0000"/>
<polygon points="177.03,278.84 179.72,284.12 174.34,284.12" fill="#ff0000"/>
<polygon points="184.83,280.24 187.52,285.52 182.15,285.52" fill="#ff0000"/>
<polygon points="192.64,281.64 195.33,286.92 189.95,286.92" fill="#ff0000"/>
<polygon points="200.44,282.84 203.13,288.12 197.75,288.12" fill="#ff0000"/>
<polygon points="208.24,284.04 210.93,289.32 205.55,289.32" fill="#ff0000"/>
<polygon points="216.05,284.94 218.73,290.22 213.36,290.22" fill="#ff0000"/>
<polygon points="223.85,285.94 226.54,291.22 221.16,291.22" fill="#ff0000"/>
<polygon points="231.65,286.84 234.34,292.12 228.96,292.12" fill="#ff0000"/>
</g>
<g>
<polyline points="52.19,282.40 60.00,278.10 67.80,272.50 75.60,267.70 83.40,262.50 91.20,258.20 99.01,255.40 106.81,254.40 114.61,255.40 122.42,257.30 130.22,259.70 138.02,262.40 145.82,264.90 153.62,267.20 161.43,269.60 169.23,271.70 177.03,273.60 184.83,275.50 192.64,277.20 200.44,278.90 208.24,280.30 216.05,281.50 223.85,282.70 231.65,283.80" fill="none" stroke="#ffa500" stroke-width="2.1" stroke-linejoin="round"/>
<polygon points="52.19,279.71 54.88,282.40 52.19,285.09 49.50,282.40" fill="#ffa500"/>
<polygon points="60.00,275.41 62.68,278.10 60.00,280.79 57.31,278.10" fill="#ffa500"/>
<polygon points="67.80,269.81 70.49,272.50 67.80,275.19 65.11,272.50" fill="#ffa500"/>
<polygon points="75.60,265.01 78.29,267.70 75.60,270.39 72.91,267.70" fill="#ffa500"/>
<polygon points="83.40,259.81 86.09,262.50 83.40,265.19 80.71,262.50" fill="#ffa500"/>
<polygon points="91.20,255.51 93.89,258.20 91.20,260.89 88.52,258.20" fill="#ffa500"/>
<polygon points="99.01,252.71 101.70,255.40 99.01,258.09 96.32,255.40" fill="#ffa500"/>
<polygon points="106.81,251.71 109.50,254.40 106.81,257.09 104.12,254.40" fill="#ffa500"/>
<polygon points="114.61,252.71 117.30,255.40 114.61,258.09 111.92,255.40" fill="#ffa500"/>
<polygon points="122.42,254.61 125.10,257.30 122.42,259.99 119.73,257.30" fill="#ffa500"/>
<polygon points="130.22,257.01 132.91,259.70 130.22,262.39 127.53,259.70" fill="#ffa500"/>
<polygon points="138.02,259.71 140.71,262.40 138.02,265.09 135.33,262.40" fill="#ffa500"/>
<polygon points="145.82,262.21 148.51,264.90 145.82,267.59 143.13,264.90" fill="#ffa500"/>
<polygon points="153.62,264.51 156.31,267.20 153.62,269.89 150.94,267.20" fill="#ffa500"/>
<polygon points="161.43,266.91 164.12,269.60 161.43,272.29 158.74,269.60" fill="#ffa500"/>
<polygon points="169.23,269.01 171.92,271.70 169.23,274.39 166.54,271.70" fill="#ffa500"/>
<polygon points="177.03,270.91 179.72,273.60 177.03,276.29 174.34,273.60" fill="#ffa500"/>
<polygon points="184.83,272.81 187.52,275.50 184.83,278.19 182.15,275.50" fill="#ffa500"/>
<polygon points="192.64,274.51 195.33,277.20 192.64,279.89 189.95,277.20" fill="#ffa500"/>
<polygon points="200.44,276.21 203.13,278.90 200.44,281.59 197.75,278.90" fill="#ffa500"/>
<polygon points="208.24,277.61 210.93,280.30 208.24,282.99 205.55,280.30" fill="#ffa500"/>
<polygon points="216.05,278.81 218.73,281.50 216.05,284.19 213.36,281.50" fill="#ffa500"/>
<polygon points="223.85,280.01 226.54,282.70 223.85,285.39 221.16,282.70" fill="#ffa500"/>
<polygon points="231.65,281.11 234.34,283.80 231.65,286.49 228.96,283.80" fill="#ffa500"/>
</g>
<g>
<polyline points="52.19,279.60 60.00,274.10 67.80,266.30 75.60,258.70 83.40,250.30 91.20,241.40 99.01,236.20 106.81,234.30 114.61,235.00 122.42,237.40 130.22,240.20 138.02,243.50 145.82,246.90 153.62,250.20 161.43,253.30 169.23,255.90 177.03,258.70 184.83,261.10 192.64,263.40 200.44,265.30 208.24,267.50 216.05,269.40 223.85,271.00 231.65,272.70" fill="none" stroke="#008b00" stroke-width="2.1" stroke-linejoin="round"/>
<rect x="49.99" y="277.40" width="4.40" height="4.40" fill="#008b00"/>
<rect x="57.80" y="271.90" width="4.40" height="4.40" fill="#008b00"/>
<rect x="65.60" y="264.10" width="4.40" height="4.40" fill="#008b00"/>
<rect x="73.40" y="256.50" width="4.40" height="4.40" fill="#008b00"/>
<rect x="81.20" y="248.10" width="4.40" height="4.40" fill="#008b00"/>
<rect x="89.00" y="239.20" width="4.40" height="4.40" fill="#008b00"/>
<rect x="96.81" y="234.00" width="4.40" height="4.40" fill="#008b00"/>
<rect x="104.61" y="232.10" width="4.40" height="4.40" fill="#008b00"/>
<rect x="112.41" y="232.80" width="4.40" height="4.40" fill="#008b00"/>
<rect x="120.22" y="235.20" width="4.40" height="4.40" fill="#008b00"/>
<rect x="128.02" y="238.00" width="4.40" height="4.40" fill="#008b00"/>
<rect x="135.82" y="241.30" width="4.40" height="4.40" fill="#008b00"/>
<rect x="143.62" y="244.70" width="4.40" height="4.40" fill="#008b00"/>
<rect x="151.43" y="248.00" width="4.40" height="4.40" fill="#008b00"/>
<rect x="159.23" y="251.10" width="4.40" height="4.40" fill="#008b00"/>
<rect x="167.03" y="253.70" width="4.40" height="4.40" fill="#008b00"/>
<rect x="174.83" y="256.50" width="4.40" height="4.40" fill="#008b00"/>
<rect x="182.63" y="258.90" width="4.40" height="4.40" fill="#008b00"/>
<rect x="190.44" y="261.20" width="4.40" height="4.40" fill="#008b00"/>
<rect x="198.24" y="263.10" width="4.40" height="4.40" fill="#008b00"/>
<rect x="206.04" y="265.30" width="4.40" height="4.40" fill="#008b00"/>
<rect x="213.85" y="267.20" width="4.40" height="4.40" fill="#008b00"/>
<rect x="221.65" y="268.80" width="4.40" height="4.40" fill="#008b00"/>
<rect x="229.45" y="270.50" width="4.40" height="4.40" fill="#008b00"/>
</g>
<g>
<polyline points="67.80,261.60 75.60,251.20 83.40,237.00 91.20,223.60 99.01,216.00 106.81,212.90 114.61,213.40 122.42,215.30 130.22,218.10 138.02,221.40 145.82,224.80 153.62,228.90 161.43,232.40 169.23,236.00 177.03,239.50 184.83,242.80 192.64,245.90 200.44,248.50 208.24,250.90 216.05,253.30 223.85,255.40 231.65,257.30" fill="none" stroke="#00ff00" stroke-width="2.1" stroke-linejoin="round"/>
<polygon points="64.44,261.60 69.72,258.91 69.72,264.29" fill="#00ff00"/>
<polygon points="72.24,251.20 77.52,248.51 77.52,253.89" fill="#00ff00"/>
<polygon points="80.04,237.00 85.32,234.31 85.32,239.69" fill="#00ff00"/>
<polygon points="87.84,223.60 93.12,220.91 93.12,226.29" fill="#00ff00"/>
<polygon points="95.65,216.00 100.93,213.31 100.93,218.69" fill="#00ff00"/>
<polygon points="103.45,212.90 108.73,210.21 108.73,215.59" fill="#00ff00"/>
<polygon points="111.25,213.40 116.53,210.71 116.53,216.09" fill="#00ff00"/>
<polygon points="119.06,215.30 124.34,212.61 124.34,217.99" fill="#00ff00"/>
<polygon points="126.86,218.10 132.14,215.41 132.14,220.79" fill="#00ff00"/>
<polygon points="134.66,221.40 139.94,218.71 139.94,224.09" fill="#00ff00"/>
<polygon points="142.46,224.80 147.74,222.11 147.74,227.49" fill="#00ff00"/>
<polygon points="150.26,228.90 155.54,226.21 155.54,231.59" fill="#00ff00"/>
<polygon points="158.07,232.40 163.35,229.71 163.35,235.09" fill="#00ff00"/>
<polygon points="165.87,236.00 171.15,233.31 171.15,238.69" fill="#00ff00"/>
<polygon points="173.67,239.50 178.95,236.81 178.95,242.19" fill="#00ff00"/>
<polygon points="181.47,242.80 186.75,240.11 186.75,245.49" fill="#00ff00"/>
<polygon points="189.28,245.90 194.56,243.21 194.56,248.59" fill="#00ff00"/>
<polygon points="197.08,248.50 202.36,245.81 202.36,251.19" fill="#00ff00"/>
<polygon points="204.88,250.90 210.16,248.21 210.16,253.59" fill="#00ff00"/>
<polygon points="212.69,253.30 217.97,250.61 217.97,255.99" fill="#00ff00"/>
<polygon points="220.49,255.40 225.77,252.71 225.77,258.09" fill="#00ff00"/>
<polygon points="228.29,257.30 233.57,254.61 233.57,259.99" fill="#00ff00"/>
</g>
<g>
<polyline points="91.20,203.00 99.01,194.00 106.81,189.20 114.61,187.10 122.42,187.30 130.22,189.50 138.02,192.10 145.82,195.10 153.62,198.00 161.43,201.60 169.23,205.20 177.03,208.70 184.83,212.50 192.64,216.10 200.44,219.60 208.24,222.90 216.05,226.00 223.85,228.90 231.65,231.70" fill="none" stroke="#0000ff" stroke-width="2.1" stroke-linejoin="round"/>
<circle cx="91.20" cy="203.00" r="2.40" fill="#0000ff"/>
<circle cx="99.01" cy="194.00" r="2.40" fill="#0000ff"/>
<circle cx="106.81" cy="189.20" r="2.40" fill="#0000ff"/>
<circle cx="114.61" cy="187.10" r="2.40" fill="#0000ff"/>
<circle cx="122.42" cy="187.30" r="2.40" fill="#0000ff"/>
<circle cx="130.22" cy="189.50" r="2.40" fill="#0000ff"/>
<circle cx="138.02" cy="192.10" r="2.40" fill="#0000ff"/>
<circle cx="145.82" cy="195.10" r="2.40" fill="#0000ff"/>
<circle cx="153.62" cy="198.00" r="2.40" fill="#0000ff"/>
<circle cx="161.43" cy="201.60" r="2.40" fill="#0000ff"/>
<circle cx="169.23" cy="205.20" r="2.40" fill="#0000ff"/>
<circle cx="177.03" cy="208.70" r="2.40" fill="#0000ff"/>
<circle cx="184.83" cy="212.50" r="2.40" fill="#0000ff"/>
<circle cx="192.64" cy="216.10" r="2.40" fill="#0000ff"/>
<circle cx="200.44" cy="219.60" r="2.40" fill="#0000ff"/>
<circle cx="208.24" cy="222.90" r="2.40" fill="#0000ff"/>
<circle cx="216.05" cy="226.00" r="2.40" fill="#0000ff"/>
<circle cx="223.85" cy="228.90" r="2.40" fill="#0000ff"/>
<circle cx="231.65" cy="231.70" r="2.40" fill="#0000ff"/>
</g>
<g>
<polyline points="247.11,285.00 254.91,281.20 262.70,276.50 270.50,271.70 278.30,267.50 286.09,265.30 293.88,265.30 301.68,267.20 309.48,270.60 317.27,274.10 325.06,277.90 332.86,281.50 340.65,284.50 348.45,287.20 356.25,289.50 364.04,291.60 371.83,293.30 379.63,294.80 387.42,296.20 395.22,297.40 403.01,298.40 410.81,299.30 418.61,300.20 426.40,300.90" fill="none" stroke="#000" stroke-width="1.0" stroke-linejoin="round"/>
<circle cx="247.11" cy="285.00" r="2.30" fill="#fff" stroke="#000" stroke-width="0.9"/>
<circle cx="254.91" cy="281.20" r="2.30" fill="#fff" stroke="#000" stroke-width="0.9"/>
<circle cx="262.70" cy="276.50" r="2.30" fill="#fff" stroke="#000" stroke-width="0.9"/>
<circle cx="270.50" cy="271.70" r="2.30" fill="#fff" stroke="#000" stroke-width="0.9"/>
<circle cx="278.30" cy="267.50" r="2.30" fill="#fff" stroke="#000" stroke-width="0.9"/>
<circle cx="286.09" cy="265.30" r="2.30" fill="#fff" stroke="#000" stroke-width="0.9"/>
<circle cx="293.88" cy="265.30" r="2.30" fill="#fff" stroke="#000" stroke-width="0.9"/>
<circle cx="301.68" cy="267.20" r="2.30" fill="#fff" stroke="#000" stroke-width="0.9"/>
<circle cx="309.48" cy="270.60" r="2.30" fill="#fff" stroke="#000" stroke-width="0.9"/>
<circle cx="317.27" cy="274.10" r="2.30" fill="#fff" stroke="#000" stroke-width="0.9"/>
<circle cx="325.06" cy="277.90" r="2.30" fill="#fff" stroke="#000" stroke-width="0.9"/>
<circle cx="332.86" cy="281.50" r="2.30" fill="#fff" stroke="#000" stroke-width="0.9"/>
<circle cx="340.65" cy="284.50" r="2.30" fill="#fff" stroke="#000" stroke-width="0.9"/>
<circle cx="348.45" cy="287.20" r="2.30" fill="#fff" stroke="#000" stroke-width="0.9"/>
<circle cx="356.25" cy="289.50" r="2.30" fill="#fff" stroke="#000" stroke-width="0.9"/>
<circle cx="364.04" cy="291.60" r="2.30" fill="#fff" stroke="#000" stroke-width="0.9"/>
<circle cx="371.83" cy="293.30" r="2.30" fill="#fff" stroke="#000" stroke-width="0.9"/>
<circle cx="379.63" cy="294.80" r="2.30" fill="#fff" stroke="#000" stroke-width="0.9"/>
<circle cx="387.42" cy="296.20" r="2.30" fill="#fff" stroke="#000" stroke-width="0.9"/>
<circle cx="395.22" cy="297.40" r="2.30" fill="#fff" stroke="#000" stroke-width="0.9"/>
<circle cx="403.01" cy="298.40" r="2.30" fill="#fff" stroke="#000" stroke-width="0.9"/>
<circle cx="410.81" cy="299.30" r="2.30" fill="#fff" stroke="#000" stroke-width="0.9"/>
<circle cx="418.61" cy="300.20" r="2.30" fill="#fff" stroke="#000" stroke-width="0.9"/>
<circle cx="426.40" cy="300.90" r="2.30" fill="#fff" stroke="#000" stroke-width="0.9"/>
</g>
<g>
<polyline points="247.11,284.10 254.91,280.00 262.70,274.10 270.50,268.20 278.30,262.70 286.09,258.70 293.88,257.80 301.68,258.70 309.48,260.60 317.27,263.00 325.06,265.10 332.86,266.80 340.65,267.80 348.45,268.20 356.25,268.20 364.04,268.00 371.83,267.80 379.63,267.50 387.42,267.30 395.22,267.20 403.01,267.10 410.81,267.00 418.61,266.90 426.40,266.80" fill="none" stroke="#ff00ff" stroke-width="2.1" stroke-linejoin="round"/>
<polygon points="247.11,280.74 249.80,286.02 244.43,286.02" fill="#ff00ff"/>
<polygon points="254.91,276.64 257.60,281.92 252.22,281.92" fill="#ff00ff"/>
<polygon points="262.70,270.74 265.39,276.02 260.02,276.02" fill="#ff00ff"/>
<polygon points="270.50,264.84 273.19,270.12 267.81,270.12" fill="#ff00ff"/>
<polygon points="278.30,259.34 280.98,264.62 275.61,264.62" fill="#ff00ff"/>
<polygon points="286.09,255.34 288.78,260.62 283.40,260.62" fill="#ff00ff"/>
<polygon points="293.88,254.44 296.57,259.72 291.20,259.72" fill="#ff00ff"/>
<polygon points="301.68,255.34 304.37,260.62 298.99,260.62" fill="#ff00ff"/>
<polygon points="309.48,257.24 312.16,262.52 306.79,262.52" fill="#ff00ff"/>
<polygon points="317.27,259.64 319.96,264.92 314.58,264.92" fill="#ff00ff"/>
<polygon points="325.06,261.74 327.75,267.02 322.38,267.02" fill="#ff00ff"/>
<polygon points="332.86,263.44 335.55,268.72 330.17,268.72" fill="#ff00ff"/>
<polygon points="340.65,264.44 343.34,269.72 337.97,269.72" fill="#ff00ff"/>
<polygon points="348.45,264.84 351.14,270.12 345.76,270.12" fill="#ff00ff"/>
<polygon points="356.25,264.84 358.93,270.12 353.56,270.12" fill="#ff00ff"/>
<polygon points="364.04,264.64 366.73,269.92 361.35,269.92" fill="#ff00ff"/>
<polygon points="371.83,264.44 374.52,269.72 369.15,269.72" fill="#ff00ff"/>
<polygon points="379.63,264.14 382.32,269.42 376.94,269.42" fill="#ff00ff"/>
<polygon points="387.42,263.94 390.11,269.22 384.74,269.22" fill="#ff00ff"/>
<polygon points="395.22,263.84 397.91,269.12 392.53,269.12" fill="#ff00ff"/>
<polygon points="403.01,263.74 405.70,269.02 400.33,269.02" fill="#ff00ff"/>
<polygon points="410.81,263.64 413.50,268.92 408.12,268.92" fill="#ff00ff"/>
<polygon points="418.61,263.54 421.29,268.82 415.92,268.82" fill="#ff00ff"/>
<polygon points="426.40,263.44 429.09,268.72 423.71,268.72" fill="#ff00ff"/>
</g>
<g>
<polyline points="247.11,283.10 254.91,278.10 262.70,271.00 270.50,264.60 278.30,258.00 286.09,252.20 293.88,249.80 301.68,249.40 309.48,249.90 317.27,250.30 325.06,250.20 332.86,249.70 340.65,249.10 348.45,248.50 356.25,247.80 364.04,247.10 371.83,246.80 379.63,246.40 387.42,246.10 395.22,245.80 403.01,245.50 410.81,245.20 418.61,244.90 426.40,244.70" fill="none" stroke="#00ff00" stroke-width="2.1" stroke-linejoin="round"/>
<polygon points="247.11,280.41 249.80,283.10 247.11,285.79 244.43,283.10" fill="#00ff00"/>
<polygon points="254.91,275.41 257.60,278.10 254.91,280.79 252.22,278.10" fill="#00ff00"/>
<polygon points="262.70,268.31 265.39,271.00 262.70,273.69 260.02,271.00" fill="#00ff00"/>
<polygon points="270.50,261.91 273.19,264.60 270.50,267.29 267.81,264.60" fill="#00ff00"/>
<polygon points="278.30,255.31 280.98,258.00 278.30,260.69 275.61,258.00" fill="#00ff00"/>
<polygon points="286.09,249.51 288.78,252.20 286.09,254.89 283.40,252.20" fill="#00ff00"/>
<polygon points="293.88,247.11 296.57,249.80 293.88,252.49 291.20,249.80" fill="#00ff00"/>
<polygon points="301.68,246.71 304.37,249.40 301.68,252.09 298.99,249.40" fill="#00ff00"/>
<polygon points="309.48,247.21 312.16,249.90 309.48,252.59 306.79,249.90" fill="#00ff00"/>
<polygon points="317.27,247.61 319.96,250.30 317.27,252.99 314.58,250.30" fill="#00ff00"/>
<polygon points="325.06,247.51 327.75,250.20 325.06,252.89 322.38,250.20" fill="#00ff00"/>
<polygon points="332.86,247.01 335.55,249.70 332.86,252.39 330.17,249.70" fill="#00ff00"/>
<polygon points="340.65,246.41 343.34,249.10 340.65,251.79 337.97,249.10" fill="#00ff00"/>
<polygon points="348.45,245.81 351.14,248.50 348.45,251.19 345.76,248.50" fill="#00ff00"/>
<polygon points="356.25,245.11 358.93,247.80 356.25,250.49 353.56,247.80" fill="#00ff00"/>
<polygon points="364.04,244.41 366.73,247.10 364.04,249.79 361.35,247.10" fill="#00ff00"/>
<polygon points="371.83,244.11 374.52,246.80 371.83,249.49 369.15,246.80" fill="#00ff00"/>
<polygon points="379.63,243.71 382.32,246.40 379.63,249.09 376.94,246.40" fill="#00ff00"/>
<polygon points="387.42,243.41 390.11,246.10 387.42,248.79 384.74,246.10" fill="#00ff00"/>
<polygon points="395.22,243.11 397.91,245.80 395.22,248.49 392.53,245.80" fill="#00ff00"/>
<polygon points="403.01,242.81 405.70,245.50 403.01,248.19 400.33,245.50" fill="#00ff00"/>
<polygon points="410.81,242.51 413.50,245.20 410.81,247.89 408.12,245.20" fill="#00ff00"/>
<polygon points="418.61,242.21 421.29,244.90 418.61,247.59 415.92,244.90" fill="#00ff00"/>
<polygon points="426.40,242.01 429.09,244.70 426.40,247.39 423.71,244.70" fill="#00ff00"/>
</g>
<g>
<polyline points="270.50,257.80 278.30,248.60 286.09,239.10 293.88,233.30 301.68,230.20 309.48,227.90 317.27,225.50 325.06,224.10 332.86,222.10 340.65,220.80 348.45,219.80 356.25,218.90 364.04,218.00 371.83,217.40 379.63,216.90 387.42,216.40 395.22,216.00 403.01,215.60 410.81,215.30 418.61,215.10 426.40,214.90" fill="none" stroke="#9400d3" stroke-width="2.1" stroke-linejoin="round"/>
<rect x="268.30" y="255.60" width="4.40" height="4.40" fill="#9400d3"/>
<rect x="276.10" y="246.40" width="4.40" height="4.40" fill="#9400d3"/>
<rect x="283.89" y="236.90" width="4.40" height="4.40" fill="#9400d3"/>
<rect x="291.69" y="231.10" width="4.40" height="4.40" fill="#9400d3"/>
<rect x="299.48" y="228.00" width="4.40" height="4.40" fill="#9400d3"/>
<rect x="307.28" y="225.70" width="4.40" height="4.40" fill="#9400d3"/>
<rect x="315.07" y="223.30" width="4.40" height="4.40" fill="#9400d3"/>
<rect x="322.87" y="221.90" width="4.40" height="4.40" fill="#9400d3"/>
<rect x="330.66" y="219.90" width="4.40" height="4.40" fill="#9400d3"/>
<rect x="338.45" y="218.60" width="4.40" height="4.40" fill="#9400d3"/>
<rect x="346.25" y="217.60" width="4.40" height="4.40" fill="#9400d3"/>
<rect x="354.05" y="216.70" width="4.40" height="4.40" fill="#9400d3"/>
<rect x="361.84" y="215.80" width="4.40" height="4.40" fill="#9400d3"/>
<rect x="369.63" y="215.20" width="4.40" height="4.40" fill="#9400d3"/>
<rect x="377.43" y="214.70" width="4.40" height="4.40" fill="#9400d3"/>
<rect x="385.22" y="214.20" width="4.40" height="4.40" fill="#9400d3"/>
<rect x="393.02" y="213.80" width="4.40" height="4.40" fill="#9400d3"/>
<rect x="400.81" y="213.40" width="4.40" height="4.40" fill="#9400d3"/>
<rect x="408.61" y="213.10" width="4.40" height="4.40" fill="#9400d3"/>
<rect x="416.41" y="212.90" width="4.40" height="4.40" fill="#9400d3"/>
<rect x="424.20" y="212.70" width="4.40" height="4.40" fill="#9400d3"/>
</g>
<g>
<polyline points="270.50,254.40 278.30,237.20 286.09,226.00 293.88,218.90 301.68,213.60 309.48,209.60 317.27,206.50 325.06,204.20 332.86,202.30 340.65,200.90 348.45,199.60 356.25,198.40 364.04,197.30 371.83,196.70 379.63,196.40 387.42,196.10 395.22,195.80 403.01,194.80 410.81,195.10 418.61,194.80 426.40,194.20" fill="none" stroke="#ffa500" stroke-width="2.1" stroke-linejoin="round"/>
<polygon points="270.50,257.76 273.19,252.48 267.81,252.48" fill="#ffa500"/>
<polygon points="278.30,240.56 280.98,235.28 275.61,235.28" fill="#ffa500"/>
<polygon points="286.09,229.36 288.78,224.08 283.40,224.08" fill="#ffa500"/>
<polygon points="293.88,222.26 296.57,216.98 291.20,216.98" fill="#ffa500"/>
<polygon points="301.68,216.96 304.37,211.68 298.99,211.68" fill="#ffa500"/>
<polygon points="309.48,212.96 312.16,207.68 306.79,207.68" fill="#ffa500"/>
<polygon points="317.27,209.86 319.96,204.58 314.58,204.58" fill="#ffa500"/>
<polygon points="325.06,207.56 327.75,202.28 322.38,202.28" fill="#ffa500"/>
<polygon points="332.86,205.66 335.55,200.38 330.17,200.38" fill="#ffa500"/>
<polygon points="340.65,204.26 343.34,198.98 337.97,198.98" fill="#ffa500"/>
<polygon points="348.45,202.96 351.14,197.68 345.76,197.68" fill="#ffa500"/>
<polygon points="356.25,201.76 358.93,196.48 353.56,196.48" fill="#ffa500"/>
<polygon points="364.04,200.66 366.73,195.38 361.35,195.38" fill="#ffa500"/>
<polygon points="371.83,200.06 374.52,194.78 369.15,194.78" fill="#ffa500"/>
<polygon points="379.63,199.76 382.32,194.48 376.94,194.48" fill="#ffa500"/>
<polygon points="387.42,199.46 390.11,194.18 384.74,194.18" fill="#ffa500"/>
<polygon points="395.22,199.16 397.91,193.88 392.53,193.88" fill="#ffa500"/>
<polygon points="403.01,198.16 405.70,192.88 400.33,192.88" fill="#ffa500"/>
<polygon points="410.81,198.46 413.50,193.18 408.12,193.18" fill="#ffa500"/>
<polygon points="418.61,198.16 421.29,192.88 415.92,192.88" fill="#ffa500"/>
<polygon points="426.40,197.56 429.09,192.28 423.71,192.28" fill="#ffa500"/>
</g>
<line x1="159.10" y1="118.70" x2="177.90" y2="118.70" stroke="#0000ff" stroke-width="2.0"/>
<circle cx="159.10" cy="118.70" r="2.30" fill="#0000ff"/>
<circle cx="177.90" cy="118.70" r="2.30" fill="#0000ff"/>
<g role="img" aria-label="T=0.21" transform="translate(184.00,122.60) scale(0.01305,-0.01305)" fill="none" stroke="#000" stroke-width="112" stroke-linecap="round" stroke-linejoin="round"><path transform="translate(0,0)" d="M60 380V512H540V380"/><path transform="translate(0,0)" d="M300 512V50"/><path transform="translate(0,0)" d="M170 50H430"/><path transform="translate(600,0)" d="M85 372H515"/><path transform="translate(600,0)" d="M85 192H515"/><path transform="translate(1200,0)" d="M300 568C395 568 455 470 455 303C455 136 395 38 300 38C205 38 145 136 145 303C145 470 205 568 300 568Z"/><circle cx="2100" cy="68" r="78" fill="#000" stroke="none"/><path transform="translate(2400,0)" d="M125 430C125 520 195 568 290 568C385 568 455 515 455 435C455 360 400 305 310 225L105 50H480V125"/><path transform="translate(3000,0)" d="M300 50V568L140 500"/><path transform="translate(3000,0)" d="M125 50H475"/></g>
<line x1="159.10" y1="131.80" x2="177.90" y2="131.80" stroke="#00ff00" stroke-width="2.0"/>
<polygon points="155.88,131.80 160.94,129.22 160.94,134.38" fill="#00ff00"/>
<polygon points="174.68,131.80 179.74,129.22 179.74,134.38" fill="#00ff00"/>
<g role="img" aria-label="T=0.31" transform="translate(184.00,135.70) scale(0.01305,-0.01305)" fill="none" stroke="#000" stroke-width="112" stroke-linecap="round" stroke-linejoin="round"><path transform="translate(0,0)" d="M60 380V512H540V380"/><path transform="translate(0,0)" d="M300 512V50"/><path transform="translate(0,0)" d="M170 50H430"/><path transform="translate(600,0)" d="M85 372H515"/><path transform="translate(600,0)" d="M85 192H515"/><path transform="translate(1200,0)" d="M300 568C395 568 455 470 455 303C455 136 395 38 300 38C205 38 145 136 145 303C145 470 205 568 300 568Z"/><circle cx="2100" cy="68" r="78" fill="#000" stroke="none"/><path transform="translate(2400,0)" d="M125 520C175 553 230 568 295 568C385 568 445 520 445 450C445 375 380 332 270 328C395 322 480 270 480 180C480 92 400 40 290 40C205 40 140 68 95 120"/><path transform="translate(3000,0)" d="M300 50V568L140 500"/><path transform="translate(3000,0)" d="M125 50H475"/></g>
<line x1="159.10" y1="145.20" x2="177.90" y2="145.20" stroke="#008b00" stroke-width="2.0"/>
<rect x="156.80" y="142.90" width="4.60" height="4.60" fill="#008b00"/>
<rect x="175.60" y="142.90" width="4.60" height="4.60" fill="#008b00"/>
<g role="img" aria-label="T=0.43" transform="translate(184.00,149.10) scale(0.01305,-0.01305)" fill="none" stroke="#000" stroke-width="112" stroke-linecap="round" stroke-linejoin="round"><path transform="translate(0,0)" d="M60 380V512H540V380"/><path transform="translate(0,0)" d="M300 512V50"/><path transform="translate(0,0)" d="M170 50H430"/><path transform="translate(600,0)" d="M85 372H515"/><path transform="translate(600,0)" d="M85 192H515"/><path transform="translate(1200,0)" d="M300 568C395 568 455 470 455 303C455 136 395 38 300 38C205 38 145 136 145 303C145 470 205 568 300 568Z"/><circle cx="2100" cy="68" r="78" fill="#000" stroke="none"/><path transform="translate(2400,0)" d="M395 50V568L100 195H505"/><path transform="translate(2400,0)" d="M285 50H485"/><path transform="translate(3000,0)" d="M125 520C175 553 230 568 295 568C385 568 445 520 445 450C445 375 380 332 270 328C395 322 480 270 480 180C480 92 400 40 290 40C205 40 140 68 95 120"/></g>
<line x1="159.10" y1="157.80" x2="177.90" y2="157.80" stroke="#ffa500" stroke-width="2.0"/>
<polygon points="159.10,155.22 161.68,157.80 159.10,160.38 156.52,157.80" fill="#ffa500"/>
<polygon points="177.90,155.22 180.48,157.80 177.90,160.38 175.32,157.80" fill="#ffa500"/>
<g role="img" aria-label="T=0.59" transform="translate(184.00,161.70) scale(0.01305,-0.01305)" fill="none" stroke="#000" stroke-width="112" stroke-linecap="round" stroke-linejoin="round"><path transform="translate(0,0)" d="M60 380V512H540V380"/><path transform="translate(0,0)" d="M300 512V50"/><path transform="translate(0,0)" d="M170 50H430"/><path transform="translate(600,0)" d="M85 372H515"/><path transform="translate(600,0)" d="M85 192H515"/><path transform="translate(1200,0)" d="M300 568C395 568 455 470 455 303C455 136 395 38 300 38C205 38 145 136 145 303C145 470 205 568 300 568Z"/><circle cx="2100" cy="68" r="78" fill="#000" stroke="none"/><path transform="translate(2400,0)" d="M445 562H160L150 330C200 368 255 385 310 385C410 385 480 312 480 212C480 112 400 40 300 40C212 40 150 68 100 120"/><path transform="translate(3000,0)" d="M125 52C295 52 450 168 450 373C450 496 380 568 288 568C198 568 128 500 128 410C128 320 198 256 288 256C370 256 430 308 450 373"/></g>
<line x1="159.10" y1="170.60" x2="177.90" y2="170.60" stroke="#ff0000" stroke-width="2.0"/>
<polygon points="159.10,167.38 161.68,172.44 156.52,172.44" fill="#ff0000"/>
<polygon points="177.90,167.38 180.48,172.44 175.32,172.44" fill="#ff0000"/>
<g role="img" aria-label="T=0.76" transform="translate(184.00,174.50) scale(0.01305,-0.01305)" fill="none" stroke="#000" stroke-width="112" stroke-linecap="round" stroke-linejoin="round"><path transform="translate(0,0)" d="M60 380V512H540V380"/><path transform="translate(0,0)" d="M300 512V50"/><path transform="translate(0,0)" d="M170 50H430"/><path transform="translate(600,0)" d="M85 372H515"/><path transform="translate(600,0)" d="M85 192H515"/><path transform="translate(1200,0)" d="M300 568C395 568 455 470 455 303C455 136 395 38 300 38C205 38 145 136 145 303C145 470 205 568 300 568Z"/><circle cx="2100" cy="68" r="78" fill="#000" stroke="none"/><path transform="translate(2400,0)" d="M110 450V562H470C425 400 355 200 300 45"/><path transform="translate(3000,0)" d="M475 556C305 556 150 440 150 235C150 112 220 40 312 40C402 40 472 108 472 198C472 288 402 352 312 352C230 352 170 300 150 235"/></g>
<line x1="159.10" y1="187.00" x2="177.90" y2="187.00" stroke="#7221bc" stroke-width="2.0"/>
<polygon points="155.88,187.00 160.94,184.42 160.94,189.58" fill="#7221bc"/>
<polygon points="174.68,187.00 179.74,184.42 179.74,189.58" fill="#7221bc"/>
<g role="img" aria-label="T=1.04" transform="translate(184.00,190.90) scale(0.01305,-0.01305)" fill="none" stroke="#000" stroke-width="112" stroke-linecap="round" stroke-linejoin="round"><path transform="translate(0,0)" d="M60 380V512H540V380"/><path transform="translate(0,0)" d="M300 512V50"/><path transform="translate(0,0)" d="M170 50H430"/><path transform="translate(600,0)" d="M85 372H515"/><path transform="translate(600,0)" d="M85 192H515"/><path transform="translate(1200,0)" d="M300 50V568L140 500"/><path transform="translate(1200,0)" d="M125 50H475"/><circle cx="2100" cy="68" r="78" fill="#000" stroke="none"/><path transform="translate(2400,0)" d="M300 568C395 568 455 470 455 303C455 136 395 38 300 38C205 38 145 136 145 303C145 470 205 568 300 568Z"/><path transform="translate(3000,0)" d="M395 50V568L100 195H505"/><path transform="translate(3000,0)" d="M285 50H485"/></g>
<g role="img" aria-label="S=0.68" transform="translate(340.15,69.45) scale(0.01305,-0.01305)" fill="none" stroke="#000" stroke-width="112" stroke-linecap="round" stroke-linejoin="round"><path transform="translate(0,0)" d="M455 400V520"/><path transform="translate(0,0)" d="M455 440C420 495 360 522 295 522C200 522 135 480 135 410C135 345 190 315 300 292C410 268 475 240 475 160C475 85 400 40 300 40C220 40 160 65 125 125"/><path transform="translate(0,0)" d="M125 40V170"/><path transform="translate(600,0)" d="M85 372H515"/><path transform="translate(600,0)" d="M85 192H515"/><path transform="translate(1200,0)" d="M300 568C395 568 455 470 455 303C455 136 395 38 300 38C205 38 145 136 145 303C145 470 205 568 300 568Z"/><circle cx="2100" cy="68" r="78" fill="#000" stroke="none"/><path transform="translate(2400,0)" d="M475 556C305 556 150 440 150 235C150 112 220 40 312 40C402 40 472 108 472 198C472 288 402 352 312 352C230 352 170 300 150 235"/><path transform="translate(3000,0)" d="M300 568C375 568 430 518 430 448C430 378 375 328 300 328C225 328 170 378 170 448C170 518 225 568 300 568Z"/><path transform="translate(3000,0)" d="M300 328C390 328 460 268 460 184C460 100 390 40 300 40C210 40 140 100 140 184C140 268 210 328 300 328Z"/></g>
<g role="img" aria-label="S=0.20" transform="translate(294.25,154.15) scale(0.01305,-0.01305)" fill="none" stroke="#670748" stroke-width="112" stroke-linecap="round" stroke-linejoin="round"><path transform="translate(0,0)" d="M455 400V520"/><path transform="translate(0,0)" d="M455 440C420 495 360 522 295 522C200 522 135 480 135 410C135 345 190 315 300 292C410 268 475 240 475 160C475 85 400 40 300 40C220 40 160 65 125 125"/><path transform="translate(0,0)" d="M125 40V170"/><path transform="translate(600,0)" d="M85 372H515"/><path transform="translate(600,0)" d="M85 192H515"/><path transform="translate(1200,0)" d="M300 568C395 568 455 470 455 303C455 136 395 38 300 38C205 38 145 136 145 303C145 470 205 568 300 568Z"/><circle cx="2100" cy="68" r="78" fill="#670748" stroke="none"/><path transform="translate(2400,0)" d="M125 430C125 520 195 568 290 568C385 568 455 515 455 435C455 360 400 305 310 225L105 50H480V125"/><path transform="translate(3000,0)" d="M300 568C395 568 455 470 455 303C455 136 395 38 300 38C205 38 145 136 145 303C145 470 205 568 300 568Z"/></g>
<g role="img" aria-label="S=0.40" transform="translate(382.25,188.35) scale(0.01305,-0.01305)" fill="none" stroke="#ffa500" stroke-width="112" stroke-linecap="round" stroke-linejoin="round"><path transform="translate(0,0)" d="M455 400V520"/><path transform="translate(0,0)" d="M455 440C420 495 360 522 295 522C200 522 135 480 135 410C135 345 190 315 300 292C410 268 475 240 475 160C475 85 400 40 300 40C220 40 160 65 125 125"/><path transform="translate(0,0)" d="M125 40V170"/><path transform="translate(600,0)" d="M85 372H515"/><path transform="translate(600,0)" d="M85 192H515"/><path transform="translate(1200,0)" d="M300 568C395 568 455 470 455 303C455 136 395 38 300 38C205 38 145 136 145 303C145 470 205 568 300 568Z"/><circle cx="2100" cy="68" r="78" fill="#ffa500" stroke="none"/><path transform="translate(2400,0)" d="M395 50V568L100 195H505"/><path transform="translate(2400,0)" d="M285 50H485"/><path transform="translate(3000,0)" d="M300 568C395 568 455 470 455 303C455 136 395 38 300 38C205 38 145 136 145 303C145 470 205 568 300 568Z"/></g>
<g role="img" aria-label="S=0.50" transform="translate(382.25,230.25) scale(0.01305,-0.01305)" fill="none" stroke="#9400d3" stroke-width="112" stroke-linecap="round" stroke-linejoin="round"><path transform="translate(0,0)" d="M455 400V520"/><path transform="translate(0,0)" d="M455 440C420 495 360 522 295 522C200 522 135 480 135 410C135 345 190 315 300 292C410 268 475 240 475 160C475 85 400 40 300 40C220 40 160 65 125 125"/><path transform="translate(0,0)" d="M125 40V170"/><path transform="translate(600,0)" d="M85 372H515"/><path transform="translate(600,0)" d="M85 192H515"/><path transform="translate(1200,0)" d="M300 568C395 568 455 470 455 303C455 136 395 38 300 38C205 38 145 136 145 303C145 470 205 568 300 568Z"/><circle cx="2100" cy="68" r="78" fill="#9400d3" stroke="none"/><path transform="translate(2400,0)" d="M445 562H160L150 330C200 368 255 385 310 385C410 385 480 312 480 212C480 112 400 40 300 40C212 40 150 68 100 120"/><path transform="translate(3000,0)" d="M300 568C395 568 455 470 455 303C455 136 395 38 300 38C205 38 145 136 145 303C145 470 205 568 300 568Z"/></g>
<g role="img" aria-label="S=0.60" transform="translate(382.95,258.45) scale(0.01305,-0.01305)" fill="none" stroke="#00ff00" stroke-width="112" stroke-linecap="round" stroke-linejoin="round"><path transform="translate(0,0)" d="M455 400V520"/><path transform="translate(0,0)" d="M455 440C420 495 360 522 295 522C200 522 135 480 135 410C135 345 190 315 300 292C410 268 475 240 475 160C475 85 400 40 300 40C220 40 160 65 125 125"/><path transform="translate(0,0)" d="M125 40V170"/><path transform="translate(600,0)" d="M85 372H515"/><path transform="translate(600,0)" d="M85 192H515"/><path transform="translate(1200,0)" d="M300 568C395 568 455 470 455 303C455 136 395 38 300 38C205 38 145 136 145 303C145 470 205 568 300 568Z"/><circle cx="2100" cy="68" r="78" fill="#00ff00" stroke="none"/><path transform="translate(2400,0)" d="M475 556C305 556 150 440 150 235C150 112 220 40 312 40C402 40 472 108 472 198C472 288 402 352 312 352C230 352 170 300 150 235"/><path transform="translate(3000,0)" d="M300 568C395 568 455 470 455 303C455 136 395 38 300 38C205 38 145 136 145 303C145 470 205 568 300 568Z"/></g>
<g role="img" aria-label="S=0.65" transform="translate(383.45,280.35) scale(0.01305,-0.01305)" fill="none" stroke="#ff00ff" stroke-width="112" stroke-linecap="round" stroke-linejoin="round"><path transform="translate(0,0)" d="M455 400V520"/><path transform="translate(0,0)" d="M455 440C420 495 360 522 295 522C200 522 135 480 135 410C135 345 190 315 300 292C410 268 475 240 475 160C475 85 400 40 300 40C220 40 160 65 125 125"/><path transform="translate(0,0)" d="M125 40V170"/><path transform="translate(600,0)" d="M85 372H515"/><path transform="translate(600,0)" d="M85 192H515"/><path transform="translate(1200,0)" d="M300 568C395 568 455 470 455 303C455 136 395 38 300 38C205 38 145 136 145 303C145 470 205 568 300 568Z"/><circle cx="2100" cy="68" r="78" fill="#ff00ff" stroke="none"/><path transform="translate(2400,0)" d="M475 556C305 556 150 440 150 235C150 112 220 40 312 40C402 40 472 108 472 198C472 288 402 352 312 352C230 352 170 300 150 235"/><path transform="translate(3000,0)" d="M445 562H160L150 330C200 368 255 385 310 385C410 385 480 312 480 212C480 112 400 40 300 40C212 40 150 68 100 120"/></g>
<g role="img" aria-label="(a)" transform="translate(84.20,24.70) scale(0.01600,-0.01600)" fill="none" stroke="#000" stroke-width="122" stroke-linecap="round" stroke-linejoin="round"><path transform="translate(0,0)" d="M400 570C252 430 252 80 400 -62"/><path transform="translate(600,0)" d="M125 365C175 408 235 430 300 430C380 430 425 392 425 320V50H545"/><path transform="translate(600,0)" d="M425 255C360 272 290 280 235 274C150 264 95 222 95 152C95 82 150 40 225 40C305 40 375 82 425 145"/><path transform="translate(1200,0)" d="M200 570C348 430 348 80 200 -62"/></g>
<g role="img" aria-label="(b)" transform="translate(244.60,21.50) scale(0.01600,-0.01600)" fill="none" stroke="#000" stroke-width="122" stroke-linecap="round" stroke-linejoin="round"><path transform="translate(0,0)" d="M400 570C252 430 252 80 400 -62"/><path transform="translate(600,0)" d="M35 545H130V50H35"/><path transform="translate(600,0)" d="M130 315C170 388 240 430 320 430C440 430 525 345 525 235C525 125 440 40 320 40C240 40 170 82 130 155"/><path transform="translate(1200,0)" d="M200 570C348 430 348 80 200 -62"/></g>
<g role="img" aria-label="(c)" transform="translate(49.10,179.30) scale(0.01600,-0.01600)" fill="none" stroke="#000" stroke-width="122" stroke-linecap="round" stroke-linejoin="round"><path transform="translate(0,0)" d="M400 570C252 430 252 80 400 -62"/><path transform="translate(600,0)" d="M495 425V300"/><path transform="translate(600,0)" d="M495 330C455 392 390 430 312 430C190 430 95 348 95 235C95 122 190 40 312 40C402 40 475 80 525 145"/><path transform="translate(1200,0)" d="M200 570C348 430 348 80 200 -62"/></g>
<g role="img" aria-label="(d)" transform="translate(245.10,176.50) scale(0.01600,-0.01600)" fill="none" stroke="#000" stroke-width="122" stroke-linecap="round" stroke-linejoin="round"><path transform="translate(0,0)" d="M400 570C252 430 252 80 400 -62"/><path transform="translate(600,0)" d="M375 545H470V50H565"/><path transform="translate(600,0)" d="M470 315C430 388 360 430 280 430C160 430 75 345 75 235C75 125 160 40 280 40C360 40 430 82 470 155"/><path transform="translate(1200,0)" d="M200 570C348 430 348 80 200 -62"/></g>
<text x="280.7" y="22.5" font-family="Liberation Serif, serif" font-size="11.5" fill="#000" text-anchor="start">S=0.75</text>
<text x="313.6" y="299.5" font-family="Liberation Serif, serif" font-size="11.5" fill="#000" text-anchor="start">S=ln(2)</text>
<text x="247.1" y="141.5" font-family="Liberation Serif, serif" font-size="13" fill="#000" text-anchor="start">T</text>
<circle cx="256.9" cy="130.0" r="1.7" fill="#909090"/>
<text x="41.1" y="12.0" font-family="Liberation Serif, serif" font-size="16.0" fill="#000" text-anchor="end">1</text>
<text x="41.1" y="55.69999999999999" font-family="Liberation Serif, serif" font-size="16.0" fill="#000" text-anchor="end">0.8</text>
<text x="41.1" y="99.4" font-family="Liberation Serif, serif" font-size="16.0" fill="#000" text-anchor="end">0.6</text>
<text x="41.1" y="143.1" font-family="Liberation Serif, serif" font-size="16.0" fill="#000" text-anchor="end">0.4</text>
<text x="41.1" y="197.20000000000002" font-family="Liberation Serif, serif" font-size="16.0" fill="#000" text-anchor="end">0.3</text>
<text x="41.1" y="237.4" font-family="Liberation Serif, serif" font-size="16.0" fill="#000" text-anchor="end">0.2</text>
<text x="41.1" y="277.6" font-family="Liberation Serif, serif" font-size="16.0" fill="#000" text-anchor="end">0.1</text>
<text x="41.1" y="317.8" font-family="Liberation Serif, serif" font-size="16.0" fill="#000" text-anchor="end">0</text>
<text x="439.0" y="37.20000000000002" font-family="Liberation Serif, serif" font-size="16.0" fill="#000" text-anchor="start">1</text>
<text x="439.0" y="101.10000000000001" font-family="Liberation Serif, serif" font-size="16.0" fill="#000" text-anchor="start">0.5</text>
<text x="439.0" y="165.0" font-family="Liberation Serif, serif" font-size="16.0" fill="#000" text-anchor="start">0</text>
<text x="75.9" y="328.3" font-family="Liberation Serif, serif" font-size="16.0" fill="#000" text-anchor="middle">4</text>
<text x="107.1" y="328.3" font-family="Liberation Serif, serif" font-size="16.0" fill="#000" text-anchor="middle">8</text>
<text x="138.3" y="328.3" font-family="Liberation Serif, serif" font-size="16.0" fill="#000" text-anchor="middle">12</text>
<text x="169.5" y="328.3" font-family="Liberation Serif, serif" font-size="16.0" fill="#000" text-anchor="middle">16</text>
<text x="200.7" y="328.3" font-family="Liberation Serif, serif" font-size="16.0" fill="#000" text-anchor="middle">20</text>
<text x="231.9" y="328.3" font-family="Liberation Serif, serif" font-size="16.0" fill="#000" text-anchor="middle">24</text>
<text x="270.8" y="328.3" font-family="Liberation Serif, serif" font-size="16.0" fill="#000" text-anchor="middle">4</text>
<text x="302.0" y="328.3" font-family="Liberation Serif, serif" font-size="16.0" fill="#000" text-anchor="middle">8</text>
<text x="333.2" y="328.3" font-family="Liberation Serif, serif" font-size="16.0" fill="#000" text-anchor="middle">12</text>
<text x="364.3" y="328.3" font-family="Liberation Serif, serif" font-size="16.0" fill="#000" text-anchor="middle">16</text>
<text x="395.5" y="328.3" font-family="Liberation Serif, serif" font-size="16.0" fill="#000" text-anchor="middle">20</text>
<text x="426.7" y="328.3" font-family="Liberation Serif, serif" font-size="16.0" fill="#000" text-anchor="middle">24</text>
<text x="142.4" y="345.8" font-family="Liberation Serif, serif" font-size="18.5" fill="#000" text-anchor="middle">U</text>
<text x="337.0" y="345.8" font-family="Liberation Serif, serif" font-size="18.5" fill="#000" text-anchor="middle">U</text>
<text transform="translate(16.7,83.3) rotate(-90)" font-family="Liberation Serif, serif" font-size="18.0" text-anchor="middle" fill="#000">S</text>
<text transform="translate(16.7,245.6) rotate(-90)" font-family="Liberation Serif, serif" font-size="18.0" fill="#000">S<tspan font-size="10.5" dy="-9.8">zz</tspan></text>
<text transform="translate(463.8,78.3) rotate(-90)" font-family="Liberation Serif, serif" font-size="18.0" text-anchor="middle" fill="#000">T</text>
</svg>
</body></html>
